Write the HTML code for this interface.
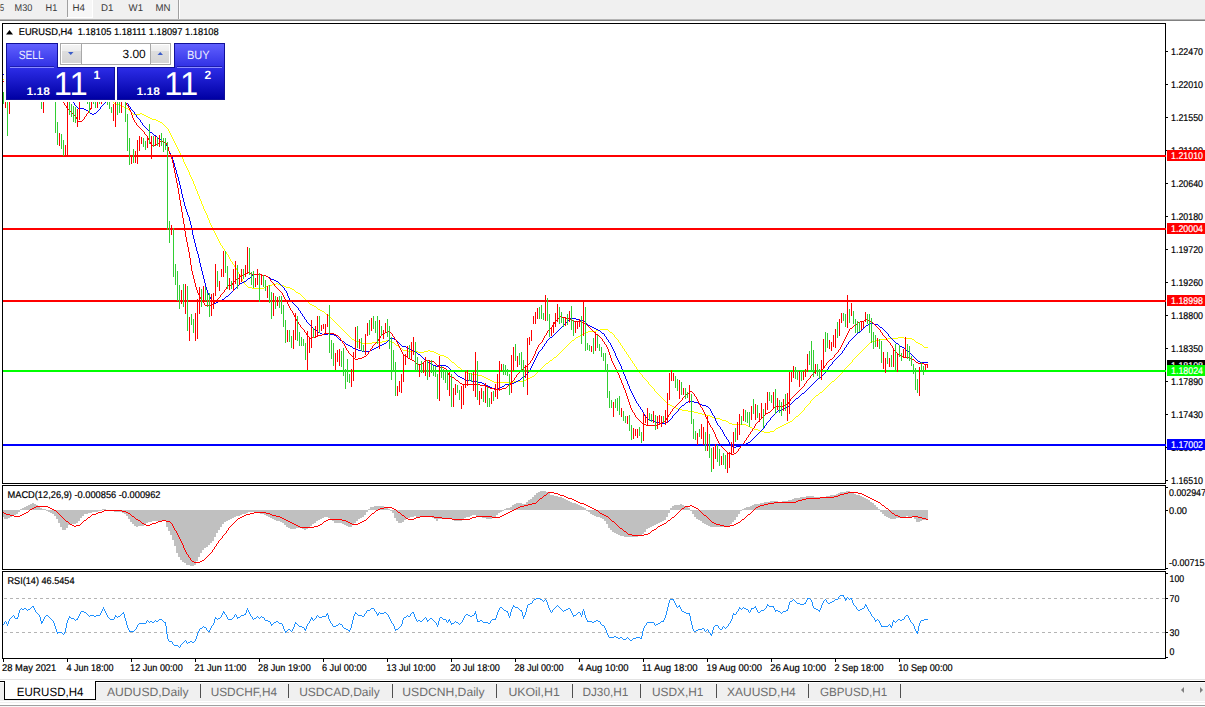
<!DOCTYPE html>
<html><head><meta charset="utf-8"><title>EURUSD,H4</title>
<style>
html,body{margin:0;padding:0;background:#fff;width:1205px;height:707px;overflow:hidden}
svg{display:block}
text{font-family:"Liberation Sans",sans-serif;text-rendering:geometricPrecision}
</style></head><body>
<svg width="1205" height="707" viewBox="0 0 1205 707" font-family="Liberation Sans, sans-serif">
<rect x="0" y="0" width="1205" height="707" fill="#fff"/>
<rect x="0" y="0" width="1205" height="19" fill="#f0f0f0"/>
<rect x="68" y="0" width="24" height="17" fill="#f7f7f7"/>
<rect x="67" y="0" width="1" height="17" fill="#a0a0a0"/>
<rect x="92" y="0" width="1" height="18" fill="#ffffff"/>
<rect x="67" y="17" width="26" height="1" fill="#ffffff"/>
<rect x="178" y="0" width="1" height="19" fill="#a0a0a0"/>
<rect x="179" y="0" width="1" height="19" fill="#ffffff"/>
<text x="0" y="11" font-size="9.8" fill="#3a3a3a" textLength="4.1" lengthAdjust="spacingAndGlyphs">5</text>
<text x="14.6" y="11" font-size="9.8" fill="#3a3a3a" textLength="17.8" lengthAdjust="spacingAndGlyphs">M30</text>
<text x="45.6" y="11" font-size="9.8" fill="#3a3a3a" textLength="11.7" lengthAdjust="spacingAndGlyphs">H1</text>
<text x="72.5" y="11" font-size="9.8" fill="#3a3a3a" textLength="12.5" lengthAdjust="spacingAndGlyphs">H4</text>
<text x="101" y="11" font-size="9.8" fill="#3a3a3a" textLength="12.4" lengthAdjust="spacingAndGlyphs">D1</text>
<text x="128.6" y="11" font-size="9.8" fill="#3a3a3a" textLength="14.4" lengthAdjust="spacingAndGlyphs">W1</text>
<text x="155.5" y="11" font-size="9.8" fill="#3a3a3a" textLength="15.0" lengthAdjust="spacingAndGlyphs">MN</text>
<rect x="0" y="19" width="1205" height="1" fill="#b4b4b4"/>
<rect x="0" y="20" width="1205" height="1" fill="#808080"/>
<rect x="2" y="23" width="1164" height="1" fill="#000"/>
<rect x="2" y="23" width="1" height="461" fill="#000"/>
<rect x="1165" y="23" width="1" height="461" fill="#000"/>
<rect x="2" y="483" width="1164" height="1" fill="#000"/>
<rect x="2" y="485" width="1164" height="1" fill="#000"/>
<rect x="2" y="485" width="1" height="85" fill="#000"/>
<rect x="1165" y="485" width="1" height="85" fill="#000"/>
<rect x="2" y="569" width="1164" height="1" fill="#000"/>
<rect x="2" y="571" width="1164" height="1" fill="#000"/>
<rect x="2" y="571" width="1" height="88" fill="#000"/>
<rect x="1165" y="571" width="1" height="88" fill="#000"/>
<rect x="2" y="658" width="1164" height="1" fill="#000"/>
<rect x="1165" y="51" width="3" height="1" fill="#000"/>
<text x="1171" y="55" font-size="9.8" fill="#000" textLength="32" lengthAdjust="spacingAndGlyphs" stroke="#000" stroke-width="0.2">1.22470</text>
<rect x="1165" y="84" width="3" height="1" fill="#000"/>
<text x="1171" y="88" font-size="9.8" fill="#000" textLength="32" lengthAdjust="spacingAndGlyphs" stroke="#000" stroke-width="0.2">1.22010</text>
<rect x="1165" y="117" width="3" height="1" fill="#000"/>
<text x="1171" y="121" font-size="9.8" fill="#000" textLength="32" lengthAdjust="spacingAndGlyphs" stroke="#000" stroke-width="0.2">1.21550</text>
<rect x="1165" y="150" width="3" height="1" fill="#000"/>
<text x="1171" y="154" font-size="9.8" fill="#000" textLength="32" lengthAdjust="spacingAndGlyphs" stroke="#000" stroke-width="0.2">1.21100</text>
<rect x="1165" y="183" width="3" height="1" fill="#000"/>
<text x="1171" y="187" font-size="9.8" fill="#000" textLength="32" lengthAdjust="spacingAndGlyphs" stroke="#000" stroke-width="0.2">1.20640</text>
<rect x="1165" y="216" width="3" height="1" fill="#000"/>
<text x="1171" y="220" font-size="9.8" fill="#000" textLength="32" lengthAdjust="spacingAndGlyphs" stroke="#000" stroke-width="0.2">1.20180</text>
<rect x="1165" y="249" width="3" height="1" fill="#000"/>
<text x="1171" y="253" font-size="9.8" fill="#000" textLength="32" lengthAdjust="spacingAndGlyphs" stroke="#000" stroke-width="0.2">1.19720</text>
<rect x="1165" y="282" width="3" height="1" fill="#000"/>
<text x="1171" y="286" font-size="9.8" fill="#000" textLength="32" lengthAdjust="spacingAndGlyphs" stroke="#000" stroke-width="0.2">1.19260</text>
<rect x="1165" y="315" width="3" height="1" fill="#000"/>
<text x="1171" y="319" font-size="9.8" fill="#000" textLength="32" lengthAdjust="spacingAndGlyphs" stroke="#000" stroke-width="0.2">1.18800</text>
<rect x="1165" y="348" width="3" height="1" fill="#000"/>
<text x="1171" y="352" font-size="9.8" fill="#000" textLength="32" lengthAdjust="spacingAndGlyphs" stroke="#000" stroke-width="0.2">1.18350</text>
<rect x="1165" y="381" width="3" height="1" fill="#000"/>
<text x="1171" y="385" font-size="9.8" fill="#000" textLength="32" lengthAdjust="spacingAndGlyphs" stroke="#000" stroke-width="0.2">1.17890</text>
<rect x="1165" y="414" width="3" height="1" fill="#000"/>
<text x="1171" y="418" font-size="9.8" fill="#000" textLength="32" lengthAdjust="spacingAndGlyphs" stroke="#000" stroke-width="0.2">1.17430</text>
<rect x="1165" y="447" width="3" height="1" fill="#000"/>
<text x="1171" y="451" font-size="9.8" fill="#000" textLength="32" lengthAdjust="spacingAndGlyphs" stroke="#000" stroke-width="0.2">1.16970</text>
<rect x="1165" y="480" width="3" height="1" fill="#000"/>
<text x="1171" y="484" font-size="9.8" fill="#000" textLength="32" lengthAdjust="spacingAndGlyphs" stroke="#000" stroke-width="0.2">1.16510</text>
<svg x="3" y="24" width="1162" height="459" viewBox="3 24 1162 459" overflow="hidden">
<path d="M113 102h1v1h-1ZM114 103h1v1h-1ZM115 103h1v1h-1ZM116 104h1v1h-1ZM117 104h1v1h-1ZM118 104h1v1h-1ZM119 104h1v1h-1ZM120 105h1v1h-1ZM121 105h1v1h-1ZM122 106h1v1h-1ZM123 106h1v1h-1ZM124 107h1v1h-1ZM125 107h1v1h-1ZM126 108h1v1h-1ZM127 108h1v1h-1ZM128 109h1v1h-1ZM129 110h1v1h-1ZM130 111h1v1h-1ZM131 112h1v1h-1ZM132 113h1v1h-1ZM133 114h1v1h-1ZM134 114h1v1h-1ZM135 114h1v1h-1ZM136 114h1v1h-1ZM137 114h1v1h-1ZM138 114h1v1h-1ZM139 114h1v1h-1ZM140 113h1v1h-1ZM141 113h1v1h-1ZM142 114h1v1h-1ZM143 114h1v1h-1ZM144 115h1v1h-1ZM145 115h1v1h-1ZM146 116h1v1h-1ZM147 116h1v1h-1ZM148 117h1v1h-1ZM149 117h1v1h-1ZM150 118h1v1h-1ZM151 118h1v1h-1ZM152 119h1v1h-1ZM153 119h1v1h-1ZM154 119h1v1h-1ZM155 119h1v1h-1ZM156 120h1v1h-1ZM157 120h1v1h-1ZM158 121h1v1h-1ZM159 121h1v1h-1ZM160 122h1v1h-1ZM161 122h1v1h-1ZM162 123h1v1h-1ZM163 124h1v1h-1ZM164 125h1v1h-1ZM165 126h1v1h-1ZM166 127h1v1h-1ZM167 128h1v1h-1ZM168 129h1v2h-1ZM169 131h1v2h-1ZM170 133h1v2h-1ZM171 135h1v2h-1ZM172 137h1v2h-1ZM173 139h1v2h-1ZM174 141h1v2h-1ZM175 143h1v2h-1ZM176 145h1v2h-1ZM177 147h1v2h-1ZM178 149h1v2h-1ZM179 151h1v2h-1ZM180 153h1v2h-1ZM181 155h1v2h-1ZM182 157h1v2h-1ZM183 159h1v3h-1ZM184 162h1v2h-1ZM185 164h1v2h-1ZM186 166h1v2h-1ZM187 168h1v2h-1ZM188 170h1v2h-1ZM189 172h1v3h-1ZM190 175h1v2h-1ZM191 177h1v2h-1ZM192 179h1v2h-1ZM193 181h1v3h-1ZM194 184h1v2h-1ZM195 186h1v3h-1ZM196 189h1v2h-1ZM197 191h1v3h-1ZM198 194h1v2h-1ZM199 196h1v3h-1ZM200 199h1v2h-1ZM201 201h1v3h-1ZM202 204h1v2h-1ZM203 206h1v3h-1ZM204 209h1v2h-1ZM205 211h1v2h-1ZM206 213h1v2h-1ZM207 215h1v3h-1ZM208 218h1v2h-1ZM209 220h1v3h-1ZM210 223h1v2h-1ZM211 225h1v2h-1ZM212 227h1v2h-1ZM213 229h1v2h-1ZM214 231h1v2h-1ZM215 233h1v2h-1ZM216 235h1v2h-1ZM217 237h1v2h-1ZM218 239h1v2h-1ZM219 241h1v2h-1ZM220 243h1v2h-1ZM221 245h1v1h-1ZM222 246h1v2h-1ZM223 248h1v1h-1ZM224 249h1v2h-1ZM225 251h1v1h-1ZM226 252h1v2h-1ZM227 254h1v1h-1ZM228 255h1v2h-1ZM229 257h1v2h-1ZM230 259h1v2h-1ZM231 261h1v1h-1ZM232 262h1v2h-1ZM233 264h1v1h-1ZM234 265h1v2h-1ZM235 267h1v1h-1ZM236 268h1v2h-1ZM237 270h1v2h-1ZM238 272h1v2h-1ZM239 274h1v1h-1ZM240 275h1v2h-1ZM241 277h1v2h-1ZM242 279h1v2h-1ZM243 281h1v1h-1ZM244 282h1v2h-1ZM245 284h1v1h-1ZM246 285h1v1h-1ZM247 286h1v1h-1ZM248 287h1v1h-1ZM249 287h1v1h-1ZM250 287h1v1h-1ZM251 287h1v1h-1ZM252 288h1v1h-1ZM253 288h1v1h-1ZM254 288h1v1h-1ZM255 288h1v1h-1ZM256 288h1v1h-1ZM257 288h1v1h-1ZM258 288h1v1h-1ZM259 288h1v1h-1ZM260 288h1v1h-1ZM261 288h1v1h-1ZM262 288h1v1h-1ZM263 288h1v1h-1ZM264 287h1v1h-1ZM265 287h1v1h-1ZM266 286h1v1h-1ZM267 286h1v1h-1ZM268 285h1v1h-1ZM269 285h1v1h-1ZM270 285h1v1h-1ZM271 285h1v1h-1ZM272 284h1v1h-1ZM273 284h1v1h-1ZM274 284h1v1h-1ZM275 284h1v1h-1ZM276 283h1v1h-1ZM277 283h1v1h-1ZM278 284h1v1h-1ZM279 284h1v1h-1ZM280 285h1v1h-1ZM281 285h1v1h-1ZM282 285h1v1h-1ZM283 285h1v1h-1ZM284 286h1v1h-1ZM285 286h1v1h-1ZM286 287h1v1h-1ZM287 287h1v1h-1ZM288 287h1v1h-1ZM289 287h1v1h-1ZM290 288h1v1h-1ZM291 288h1v1h-1ZM292 289h1v1h-1ZM293 289h1v1h-1ZM294 290h1v1h-1ZM295 291h1v1h-1ZM296 292h1v1h-1ZM297 292h1v1h-1ZM298 293h1v1h-1ZM299 293h1v1h-1ZM300 294h1v1h-1ZM301 295h1v1h-1ZM302 296h1v1h-1ZM303 297h1v1h-1ZM304 298h1v1h-1ZM305 299h1v1h-1ZM306 300h1v1h-1ZM307 301h1v1h-1ZM308 302h1v1h-1ZM309 303h1v1h-1ZM310 304h1v1h-1ZM311 304h1v1h-1ZM312 305h1v1h-1ZM313 305h1v1h-1ZM314 306h1v1h-1ZM315 306h1v1h-1ZM316 307h1v1h-1ZM317 308h1v1h-1ZM318 309h1v1h-1ZM319 309h1v1h-1ZM320 310h1v1h-1ZM321 310h1v1h-1ZM322 311h1v1h-1ZM323 311h1v1h-1ZM324 312h1v1h-1ZM325 313h1v1h-1ZM326 314h1v1h-1ZM327 314h1v1h-1ZM328 315h1v1h-1ZM329 316h1v1h-1ZM330 317h1v1h-1ZM331 318h1v1h-1ZM332 319h1v1h-1ZM333 320h1v1h-1ZM334 321h1v1h-1ZM335 322h1v1h-1ZM336 323h1v1h-1ZM337 324h1v1h-1ZM338 325h1v1h-1ZM339 326h1v1h-1ZM340 327h1v1h-1ZM341 328h1v1h-1ZM342 329h1v1h-1ZM343 330h1v1h-1ZM344 331h1v1h-1ZM345 332h1v1h-1ZM346 333h1v1h-1ZM347 334h1v1h-1ZM348 335h1v1h-1ZM349 336h1v1h-1ZM350 337h1v1h-1ZM351 338h1v1h-1ZM352 339h1v1h-1ZM353 339h1v1h-1ZM354 340h1v1h-1ZM355 340h1v1h-1ZM356 341h1v1h-1ZM357 341h1v1h-1ZM358 341h1v1h-1ZM359 341h1v1h-1ZM360 342h1v1h-1ZM361 342h1v1h-1ZM362 343h1v1h-1ZM363 343h1v1h-1ZM364 343h1v1h-1ZM365 343h1v1h-1ZM366 343h1v1h-1ZM367 343h1v1h-1ZM368 343h1v1h-1ZM369 343h1v1h-1ZM370 343h1v1h-1ZM371 343h1v1h-1ZM372 342h1v1h-1ZM373 342h1v1h-1ZM374 342h1v1h-1ZM375 342h1v1h-1ZM376 342h1v1h-1ZM377 342h1v1h-1ZM378 342h1v1h-1ZM379 342h1v1h-1ZM380 342h1v1h-1ZM381 342h1v1h-1ZM382 341h1v1h-1ZM383 341h1v1h-1ZM384 341h1v1h-1ZM385 341h1v1h-1ZM386 340h1v1h-1ZM387 340h1v1h-1ZM388 340h1v1h-1ZM389 340h1v1h-1ZM390 341h1v1h-1ZM391 341h1v1h-1ZM392 342h1v1h-1ZM393 342h1v1h-1ZM394 343h1v1h-1ZM395 344h1v1h-1ZM396 345h1v1h-1ZM397 345h1v1h-1ZM398 346h1v1h-1ZM399 347h1v1h-1ZM400 348h1v1h-1ZM401 348h1v1h-1ZM402 349h1v1h-1ZM403 350h1v1h-1ZM404 350h1v1h-1ZM405 350h1v1h-1ZM406 350h1v1h-1ZM407 350h1v1h-1ZM408 351h1v1h-1ZM409 351h1v1h-1ZM410 351h1v1h-1ZM411 351h1v1h-1ZM412 351h1v1h-1ZM413 351h1v1h-1ZM414 351h1v1h-1ZM415 351h1v1h-1ZM416 351h1v1h-1ZM417 351h1v1h-1ZM418 352h1v1h-1ZM419 352h1v1h-1ZM420 352h1v1h-1ZM421 352h1v1h-1ZM422 352h1v1h-1ZM423 352h1v1h-1ZM424 351h1v1h-1ZM425 351h1v1h-1ZM426 351h1v1h-1ZM427 351h1v1h-1ZM428 350h1v1h-1ZM429 350h1v1h-1ZM430 351h1v1h-1ZM431 351h1v1h-1ZM432 351h1v1h-1ZM433 351h1v1h-1ZM434 352h1v1h-1ZM435 352h1v1h-1ZM436 353h1v1h-1ZM437 353h1v1h-1ZM438 354h1v1h-1ZM439 354h1v1h-1ZM440 355h1v1h-1ZM441 355h1v1h-1ZM442 355h1v1h-1ZM443 355h1v1h-1ZM444 356h1v1h-1ZM445 356h1v1h-1ZM446 357h1v1h-1ZM447 357h1v1h-1ZM448 358h1v1h-1ZM449 359h1v1h-1ZM450 360h1v1h-1ZM451 361h1v1h-1ZM452 362h1v1h-1ZM453 362h1v1h-1ZM454 363h1v1h-1ZM455 364h1v1h-1ZM456 365h1v1h-1ZM457 366h1v1h-1ZM458 367h1v1h-1ZM459 367h1v1h-1ZM460 368h1v1h-1ZM461 369h1v1h-1ZM462 370h1v1h-1ZM463 370h1v1h-1ZM464 371h1v1h-1ZM465 371h1v1h-1ZM466 372h1v1h-1ZM467 372h1v1h-1ZM468 373h1v1h-1ZM469 373h1v1h-1ZM470 373h1v1h-1ZM471 373h1v1h-1ZM472 374h1v1h-1ZM473 374h1v1h-1ZM474 374h1v1h-1ZM475 374h1v1h-1ZM476 374h1v1h-1ZM477 374h1v1h-1ZM478 375h1v1h-1ZM479 375h1v1h-1ZM480 375h1v1h-1ZM481 375h1v1h-1ZM482 376h1v1h-1ZM483 376h1v1h-1ZM484 377h1v1h-1ZM485 377h1v1h-1ZM486 378h1v1h-1ZM487 378h1v1h-1ZM488 379h1v1h-1ZM489 379h1v1h-1ZM490 380h1v1h-1ZM491 380h1v1h-1ZM492 381h1v1h-1ZM493 381h1v1h-1ZM494 382h1v1h-1ZM495 382h1v1h-1ZM496 382h1v1h-1ZM497 382h1v1h-1ZM498 382h1v1h-1ZM499 382h1v1h-1ZM500 382h1v1h-1ZM501 382h1v1h-1ZM502 382h1v1h-1ZM503 382h1v1h-1ZM504 382h1v1h-1ZM505 382h1v1h-1ZM506 382h1v1h-1ZM507 382h1v1h-1ZM508 382h1v1h-1ZM509 382h1v1h-1ZM510 382h1v1h-1ZM511 382h1v1h-1ZM512 382h1v1h-1ZM513 382h1v1h-1ZM514 381h1v1h-1ZM515 381h1v1h-1ZM516 381h1v1h-1ZM517 381h1v1h-1ZM518 381h1v1h-1ZM519 381h1v1h-1ZM520 381h1v1h-1ZM521 381h1v1h-1ZM522 381h1v1h-1ZM523 381h1v1h-1ZM524 380h1v1h-1ZM525 380h1v1h-1ZM526 379h1v1h-1ZM527 379h1v1h-1ZM528 378h1v1h-1ZM529 378h1v1h-1ZM530 377h1v1h-1ZM531 377h1v1h-1ZM532 376h1v1h-1ZM533 376h1v1h-1ZM534 375h1v1h-1ZM535 374h1v1h-1ZM536 373h1v1h-1ZM537 372h1v1h-1ZM538 371h1v1h-1ZM539 370h1v1h-1ZM540 369h1v1h-1ZM541 368h1v1h-1ZM542 367h1v1h-1ZM543 366h1v1h-1ZM544 365h1v1h-1ZM545 364h1v1h-1ZM546 363h1v1h-1ZM547 363h1v1h-1ZM548 362h1v1h-1ZM549 361h1v1h-1ZM550 360h1v1h-1ZM551 360h1v1h-1ZM552 359h1v1h-1ZM553 358h1v1h-1ZM554 357h1v1h-1ZM555 357h1v1h-1ZM556 356h1v1h-1ZM557 355h1v1h-1ZM558 354h1v1h-1ZM559 353h1v1h-1ZM560 352h1v1h-1ZM561 351h1v1h-1ZM562 350h1v1h-1ZM563 349h1v1h-1ZM564 348h1v1h-1ZM565 347h1v1h-1ZM566 346h1v1h-1ZM567 345h1v1h-1ZM568 344h1v1h-1ZM569 343h1v1h-1ZM570 342h1v1h-1ZM571 341h1v1h-1ZM572 340h1v1h-1ZM573 340h1v1h-1ZM574 339h1v1h-1ZM575 338h1v1h-1ZM576 337h1v1h-1ZM577 337h1v1h-1ZM578 336h1v1h-1ZM579 336h1v1h-1ZM580 335h1v1h-1ZM581 335h1v1h-1ZM582 334h1v1h-1ZM583 334h1v1h-1ZM584 333h1v1h-1ZM585 333h1v1h-1ZM586 332h1v1h-1ZM587 332h1v1h-1ZM588 331h1v1h-1ZM589 331h1v1h-1ZM590 331h1v1h-1ZM591 331h1v1h-1ZM592 331h1v1h-1ZM593 331h1v1h-1ZM594 331h1v1h-1ZM595 331h1v1h-1ZM596 330h1v1h-1ZM597 330h1v1h-1ZM598 330h1v1h-1ZM599 330h1v1h-1ZM600 329h1v1h-1ZM601 329h1v1h-1ZM602 329h1v1h-1ZM603 329h1v1h-1ZM604 329h1v1h-1ZM605 329h1v1h-1ZM606 329h1v1h-1ZM607 329h1v1h-1ZM608 330h1v1h-1ZM609 331h1v1h-1ZM610 332h1v1h-1ZM611 332h1v1h-1ZM612 333h1v1h-1ZM613 334h1v1h-1ZM614 335h1v2h-1ZM615 337h1v1h-1ZM616 338h1v1h-1ZM617 339h1v1h-1ZM618 340h1v2h-1ZM619 342h1v1h-1ZM620 343h1v2h-1ZM621 345h1v1h-1ZM622 346h1v2h-1ZM623 348h1v1h-1ZM624 349h1v2h-1ZM625 351h1v1h-1ZM626 352h1v2h-1ZM627 354h1v1h-1ZM628 355h1v2h-1ZM629 357h1v1h-1ZM630 358h1v2h-1ZM631 360h1v1h-1ZM632 361h1v2h-1ZM633 363h1v1h-1ZM634 364h1v2h-1ZM635 366h1v1h-1ZM636 367h1v2h-1ZM637 369h1v1h-1ZM638 370h1v2h-1ZM639 372h1v1h-1ZM640 373h1v1h-1ZM641 374h1v1h-1ZM642 375h1v2h-1ZM643 377h1v1h-1ZM644 378h1v1h-1ZM645 379h1v1h-1ZM646 380h1v1h-1ZM647 381h1v1h-1ZM648 382h1v2h-1ZM649 384h1v1h-1ZM650 385h1v1h-1ZM651 386h1v1h-1ZM652 387h1v1h-1ZM653 388h1v1h-1ZM654 389h1v2h-1ZM655 391h1v1h-1ZM656 392h1v1h-1ZM657 393h1v1h-1ZM658 394h1v1h-1ZM659 395h1v1h-1ZM660 396h1v1h-1ZM661 397h1v1h-1ZM662 398h1v1h-1ZM663 399h1v1h-1ZM664 400h1v1h-1ZM665 401h1v1h-1ZM666 402h1v1h-1ZM667 403h1v1h-1ZM668 404h1v1h-1ZM669 404h1v1h-1ZM670 405h1v1h-1ZM671 405h1v1h-1ZM672 406h1v1h-1ZM673 406h1v1h-1ZM674 407h1v1h-1ZM675 407h1v1h-1ZM676 408h1v1h-1ZM677 408h1v1h-1ZM678 409h1v1h-1ZM679 409h1v1h-1ZM680 409h1v1h-1ZM681 409h1v1h-1ZM682 410h1v1h-1ZM683 410h1v1h-1ZM684 410h1v1h-1ZM685 410h1v1h-1ZM686 410h1v1h-1ZM687 410h1v1h-1ZM688 411h1v1h-1ZM689 411h1v1h-1ZM690 411h1v1h-1ZM691 411h1v1h-1ZM692 411h1v1h-1ZM693 411h1v1h-1ZM694 412h1v1h-1ZM695 412h1v1h-1ZM696 412h1v1h-1ZM697 412h1v1h-1ZM698 413h1v1h-1ZM699 413h1v1h-1ZM700 413h1v1h-1ZM701 413h1v1h-1ZM702 414h1v1h-1ZM703 414h1v1h-1ZM704 414h1v1h-1ZM705 414h1v1h-1ZM706 415h1v1h-1ZM707 415h1v1h-1ZM708 415h1v1h-1ZM709 415h1v1h-1ZM710 416h1v1h-1ZM711 416h1v1h-1ZM712 417h1v1h-1ZM713 417h1v1h-1ZM714 418h1v1h-1ZM715 418h1v1h-1ZM716 418h1v1h-1ZM717 418h1v1h-1ZM718 418h1v1h-1ZM719 418h1v1h-1ZM720 419h1v1h-1ZM721 419h1v1h-1ZM722 420h1v1h-1ZM723 420h1v1h-1ZM724 420h1v1h-1ZM725 420h1v1h-1ZM726 421h1v1h-1ZM727 421h1v1h-1ZM728 422h1v1h-1ZM729 423h1v1h-1ZM730 423h1v1h-1ZM731 423h1v1h-1ZM732 424h1v1h-1ZM733 424h1v1h-1ZM734 424h1v1h-1ZM735 424h1v1h-1ZM736 424h1v1h-1ZM737 424h1v1h-1ZM738 424h1v1h-1ZM739 424h1v1h-1ZM740 424h1v1h-1ZM741 424h1v1h-1ZM742 424h1v1h-1ZM743 424h1v1h-1ZM744 424h1v1h-1ZM745 424h1v1h-1ZM746 425h1v1h-1ZM747 425h1v1h-1ZM748 426h1v1h-1ZM749 426h1v1h-1ZM750 427h1v1h-1ZM751 427h1v1h-1ZM752 428h1v1h-1ZM753 428h1v1h-1ZM754 429h1v1h-1ZM755 429h1v1h-1ZM756 429h1v1h-1ZM757 429h1v1h-1ZM758 430h1v1h-1ZM759 430h1v1h-1ZM760 431h1v1h-1ZM761 431h1v1h-1ZM762 431h1v1h-1ZM763 431h1v1h-1ZM764 432h1v1h-1ZM765 432h1v1h-1ZM766 432h1v1h-1ZM767 432h1v1h-1ZM768 432h1v1h-1ZM769 432h1v1h-1ZM770 431h1v1h-1ZM771 431h1v1h-1ZM772 431h1v1h-1ZM773 431h1v1h-1ZM774 430h1v1h-1ZM775 429h1v1h-1ZM776 428h1v1h-1ZM777 428h1v1h-1ZM778 427h1v1h-1ZM779 427h1v1h-1ZM780 426h1v1h-1ZM781 426h1v1h-1ZM782 425h1v1h-1ZM783 425h1v1h-1ZM784 424h1v1h-1ZM785 424h1v1h-1ZM786 423h1v1h-1ZM787 423h1v1h-1ZM788 422h1v1h-1ZM789 422h1v1h-1ZM790 421h1v1h-1ZM791 421h1v1h-1ZM792 420h1v1h-1ZM793 419h1v1h-1ZM794 418h1v1h-1ZM795 417h1v1h-1ZM796 416h1v1h-1ZM797 416h1v1h-1ZM798 415h1v1h-1ZM799 414h1v1h-1ZM800 413h1v1h-1ZM801 412h1v1h-1ZM802 411h1v1h-1ZM803 410h1v1h-1ZM804 408h1v2h-1ZM805 407h1v1h-1ZM806 406h1v1h-1ZM807 405h1v1h-1ZM808 404h1v1h-1ZM809 403h1v1h-1ZM810 401h1v2h-1ZM811 400h1v1h-1ZM812 399h1v1h-1ZM813 398h1v1h-1ZM814 397h1v1h-1ZM815 396h1v1h-1ZM816 395h1v1h-1ZM817 395h1v1h-1ZM818 394h1v1h-1ZM819 393h1v1h-1ZM820 392h1v1h-1ZM821 392h1v1h-1ZM822 391h1v1h-1ZM823 390h1v1h-1ZM824 389h1v1h-1ZM825 388h1v1h-1ZM826 387h1v1h-1ZM827 386h1v1h-1ZM828 385h1v1h-1ZM829 384h1v1h-1ZM830 383h1v1h-1ZM831 382h1v1h-1ZM832 381h1v1h-1ZM833 381h1v1h-1ZM834 380h1v1h-1ZM835 379h1v1h-1ZM836 378h1v1h-1ZM837 377h1v1h-1ZM838 376h1v1h-1ZM839 375h1v1h-1ZM840 374h1v1h-1ZM841 373h1v1h-1ZM842 371h1v2h-1ZM843 370h1v1h-1ZM844 369h1v1h-1ZM845 368h1v1h-1ZM846 367h1v1h-1ZM847 366h1v1h-1ZM848 365h1v1h-1ZM849 364h1v1h-1ZM850 363h1v1h-1ZM851 362h1v1h-1ZM852 360h1v2h-1ZM853 359h1v1h-1ZM854 358h1v1h-1ZM855 357h1v1h-1ZM856 356h1v1h-1ZM857 355h1v1h-1ZM858 354h1v1h-1ZM859 353h1v1h-1ZM860 352h1v1h-1ZM861 351h1v1h-1ZM862 350h1v1h-1ZM863 349h1v1h-1ZM864 348h1v1h-1ZM865 347h1v1h-1ZM866 346h1v1h-1ZM867 345h1v1h-1ZM868 344h1v1h-1ZM869 343h1v1h-1ZM870 342h1v1h-1ZM871 342h1v1h-1ZM872 341h1v1h-1ZM873 341h1v1h-1ZM874 341h1v1h-1ZM875 341h1v1h-1ZM876 340h1v1h-1ZM877 340h1v1h-1ZM878 340h1v1h-1ZM879 340h1v1h-1ZM880 339h1v1h-1ZM881 339h1v1h-1ZM882 339h1v1h-1ZM883 339h1v1h-1ZM884 339h1v1h-1ZM885 339h1v1h-1ZM886 339h1v1h-1ZM887 339h1v1h-1ZM888 338h1v1h-1ZM889 338h1v1h-1ZM890 338h1v1h-1ZM891 338h1v1h-1ZM892 338h1v1h-1ZM893 338h1v1h-1ZM894 338h1v1h-1ZM895 338h1v1h-1ZM896 338h1v1h-1ZM897 338h1v1h-1ZM898 337h1v1h-1ZM899 337h1v1h-1ZM900 337h1v1h-1ZM901 337h1v1h-1ZM902 337h1v1h-1ZM903 337h1v1h-1ZM904 338h1v1h-1ZM905 338h1v1h-1ZM906 338h1v1h-1ZM907 338h1v1h-1ZM908 338h1v1h-1ZM909 338h1v1h-1ZM910 338h1v1h-1ZM911 338h1v1h-1ZM912 339h1v1h-1ZM913 339h1v1h-1ZM914 340h1v1h-1ZM915 341h1v1h-1ZM916 342h1v1h-1ZM917 342h1v1h-1ZM918 343h1v1h-1ZM919 343h1v1h-1ZM920 344h1v1h-1ZM921 344h1v1h-1ZM922 345h1v1h-1ZM923 346h1v1h-1ZM924 347h1v1h-1ZM925 347h1v1h-1ZM926 347h1v1h-1ZM927 347h1v1h-1Z" fill="#ffff00" shape-rendering="crispEdges"/>
<path d="M73 102h1v1h-1ZM74 103h1v2h-1ZM75 105h1v1h-1ZM76 106h1v1h-1ZM77 107h1v1h-1ZM78 108h1v1h-1ZM79 108h1v1h-1ZM80 108h1v1h-1ZM81 108h1v1h-1ZM82 108h1v1h-1ZM83 108h1v1h-1ZM84 109h1v1h-1ZM85 109h1v1h-1ZM86 110h1v1h-1ZM87 110h1v1h-1ZM88 111h1v1h-1ZM89 112h1v1h-1ZM90 113h1v1h-1ZM91 113h1v1h-1ZM92 114h1v1h-1ZM93 114h1v1h-1ZM94 113h1v1h-1ZM95 113h1v1h-1ZM96 112h1v1h-1ZM97 111h1v1h-1ZM98 110h1v1h-1ZM99 109h1v1h-1ZM100 107h1v2h-1ZM101 106h1v1h-1ZM102 105h1v1h-1ZM103 104h1v1h-1ZM104 103h1v1h-1ZM105 102h1v1h-1Z" fill="#0000ff" shape-rendering="crispEdges"/>
<path d="M127 103h1v1h-1ZM128 104h1v2h-1ZM129 106h1v1h-1ZM130 107h1v2h-1ZM131 109h1v1h-1ZM132 110h1v1h-1ZM133 111h1v1h-1ZM134 112h1v2h-1ZM135 114h1v1h-1ZM136 115h1v2h-1ZM137 117h1v1h-1ZM138 118h1v1h-1ZM139 119h1v1h-1ZM140 120h1v2h-1ZM141 122h1v1h-1ZM142 123h1v2h-1ZM143 125h1v1h-1ZM144 126h1v1h-1ZM145 127h1v1h-1ZM146 128h1v1h-1ZM147 129h1v1h-1ZM148 130h1v1h-1ZM149 131h1v1h-1ZM150 132h1v1h-1ZM151 132h1v1h-1ZM152 133h1v1h-1ZM153 134h1v1h-1ZM154 135h1v1h-1ZM155 135h1v1h-1ZM156 136h1v1h-1ZM157 137h1v1h-1ZM158 138h1v1h-1ZM159 138h1v1h-1ZM160 139h1v1h-1ZM161 140h1v1h-1ZM162 141h1v1h-1ZM163 141h1v1h-1ZM164 142h1v1h-1ZM165 143h1v1h-1ZM166 144h1v2h-1ZM167 146h1v2h-1ZM168 148h1v3h-1ZM169 151h1v2h-1ZM170 153h1v2h-1ZM171 155h1v2h-1ZM172 157h1v3h-1ZM173 160h1v3h-1ZM174 163h1v4h-1ZM175 167h1v3h-1ZM176 170h1v4h-1ZM177 174h1v3h-1ZM178 177h1v4h-1ZM179 181h1v4h-1ZM180 185h1v4h-1ZM181 189h1v5h-1ZM182 194h1v4h-1ZM183 198h1v4h-1ZM184 202h1v4h-1ZM185 206h1v3h-1ZM186 209h1v3h-1ZM187 212h1v3h-1ZM188 215h1v2h-1ZM189 217h1v4h-1ZM190 221h1v4h-1ZM191 225h1v5h-1ZM192 230h1v5h-1ZM193 235h1v4h-1ZM194 239h1v4h-1ZM195 243h1v4h-1ZM196 247h1v4h-1ZM197 251h1v3h-1ZM198 254h1v4h-1ZM199 258h1v5h-1ZM200 263h1v4h-1ZM201 267h1v4h-1ZM202 271h1v4h-1ZM203 275h1v4h-1ZM204 279h1v4h-1ZM205 283h1v4h-1ZM206 287h1v3h-1ZM207 290h1v3h-1ZM208 293h1v2h-1ZM209 295h1v2h-1ZM210 297h1v2h-1ZM211 299h1v1h-1ZM212 300h1v2h-1ZM213 302h1v1h-1ZM214 303h1v1h-1ZM215 303h1v1h-1ZM216 302h1v1h-1ZM217 302h1v1h-1ZM218 301h1v1h-1ZM219 301h1v1h-1ZM220 300h1v1h-1ZM221 300h1v1h-1ZM222 299h1v1h-1ZM223 299h1v1h-1ZM224 298h1v1h-1ZM225 297h1v1h-1ZM226 296h1v1h-1ZM227 296h1v1h-1ZM228 295h1v1h-1ZM229 294h1v1h-1ZM230 293h1v1h-1ZM231 292h1v1h-1ZM232 291h1v1h-1ZM233 290h1v1h-1ZM234 289h1v1h-1ZM235 288h1v1h-1ZM236 287h1v1h-1ZM237 286h1v1h-1ZM238 285h1v1h-1ZM239 284h1v1h-1ZM240 283h1v1h-1ZM241 283h1v1h-1ZM242 282h1v1h-1ZM243 282h1v1h-1ZM244 281h1v1h-1ZM245 281h1v1h-1ZM246 280h1v1h-1ZM247 279h1v1h-1ZM248 278h1v1h-1ZM249 278h1v1h-1ZM250 277h1v1h-1ZM251 276h1v1h-1ZM252 275h1v1h-1ZM253 275h1v1h-1ZM254 274h1v1h-1ZM255 274h1v1h-1ZM256 274h1v1h-1ZM257 274h1v1h-1ZM258 274h1v1h-1ZM259 274h1v1h-1ZM260 274h1v1h-1ZM261 274h1v1h-1ZM262 275h1v1h-1ZM263 275h1v1h-1ZM264 275h1v1h-1ZM265 275h1v1h-1ZM266 276h1v1h-1ZM267 276h1v1h-1ZM268 277h1v1h-1ZM269 277h1v1h-1ZM270 278h1v1h-1ZM271 279h1v1h-1ZM272 279h1v1h-1ZM273 279h1v1h-1ZM274 280h1v1h-1ZM275 280h1v1h-1ZM276 281h1v1h-1ZM277 281h1v1h-1ZM278 282h1v1h-1ZM279 283h1v1h-1ZM280 284h1v1h-1ZM281 285h1v1h-1ZM282 286h1v1h-1ZM283 287h1v1h-1ZM284 288h1v2h-1ZM285 290h1v1h-1ZM286 291h1v2h-1ZM287 293h1v3h-1ZM288 296h1v2h-1ZM289 298h1v2h-1ZM290 300h1v1h-1ZM291 301h1v1h-1ZM292 302h1v1h-1ZM293 303h1v1h-1ZM294 304h1v1h-1ZM295 305h1v1h-1ZM296 306h1v1h-1ZM297 307h1v1h-1ZM298 308h1v2h-1ZM299 310h1v1h-1ZM300 311h1v2h-1ZM301 313h1v1h-1ZM302 314h1v2h-1ZM303 316h1v1h-1ZM304 317h1v2h-1ZM305 319h1v1h-1ZM306 320h1v2h-1ZM307 322h1v1h-1ZM308 323h1v1h-1ZM309 324h1v1h-1ZM310 325h1v1h-1ZM311 326h1v1h-1ZM312 327h1v1h-1ZM313 328h1v1h-1ZM314 329h1v1h-1ZM315 329h1v1h-1ZM316 330h1v1h-1ZM317 331h1v1h-1ZM318 332h1v1h-1ZM319 332h1v1h-1ZM320 333h1v1h-1ZM321 333h1v1h-1ZM322 334h1v1h-1ZM323 334h1v1h-1ZM324 334h1v1h-1ZM325 334h1v1h-1ZM326 334h1v1h-1ZM327 334h1v1h-1ZM328 333h1v1h-1ZM329 333h1v1h-1ZM330 334h1v1h-1ZM331 334h1v1h-1ZM332 334h1v1h-1ZM333 334h1v1h-1ZM334 335h1v1h-1ZM335 335h1v1h-1ZM336 336h1v1h-1ZM337 337h1v1h-1ZM338 338h1v1h-1ZM339 339h1v1h-1ZM340 340h1v1h-1ZM341 340h1v1h-1ZM342 341h1v1h-1ZM343 341h1v1h-1ZM344 342h1v1h-1ZM345 343h1v1h-1ZM346 344h1v1h-1ZM347 344h1v1h-1ZM348 345h1v1h-1ZM349 345h1v1h-1ZM350 346h1v1h-1ZM351 346h1v1h-1ZM352 347h1v1h-1ZM353 348h1v1h-1ZM354 348h1v1h-1ZM355 348h1v1h-1ZM356 349h1v1h-1ZM357 349h1v1h-1ZM358 350h1v1h-1ZM359 350h1v1h-1ZM360 350h1v1h-1ZM361 350h1v1h-1ZM362 351h1v1h-1ZM363 351h1v1h-1ZM364 351h1v1h-1ZM365 351h1v1h-1ZM366 351h1v1h-1ZM367 351h1v1h-1ZM368 351h1v1h-1ZM369 351h1v1h-1ZM370 350h1v1h-1ZM371 350h1v1h-1ZM372 349h1v1h-1ZM373 349h1v1h-1ZM374 348h1v1h-1ZM375 348h1v1h-1ZM376 347h1v1h-1ZM377 347h1v1h-1ZM378 346h1v1h-1ZM379 346h1v1h-1ZM380 345h1v1h-1ZM381 345h1v1h-1ZM382 344h1v1h-1ZM383 344h1v1h-1ZM384 343h1v1h-1ZM385 343h1v1h-1ZM386 342h1v1h-1ZM387 341h1v1h-1ZM388 340h1v1h-1ZM389 339h1v1h-1ZM390 338h1v1h-1ZM391 338h1v1h-1ZM392 338h1v1h-1ZM393 338h1v1h-1ZM394 339h1v1h-1ZM395 339h1v1h-1ZM396 340h1v1h-1ZM397 341h1v1h-1ZM398 342h1v1h-1ZM399 343h1v1h-1ZM400 344h1v1h-1ZM401 345h1v1h-1ZM402 346h1v1h-1ZM403 346h1v1h-1ZM404 346h1v1h-1ZM405 346h1v1h-1ZM406 347h1v1h-1ZM407 347h1v1h-1ZM408 348h1v1h-1ZM409 348h1v1h-1ZM410 349h1v1h-1ZM411 349h1v1h-1ZM412 350h1v1h-1ZM413 350h1v1h-1ZM414 351h1v1h-1ZM415 351h1v1h-1ZM416 352h1v1h-1ZM417 353h1v1h-1ZM418 354h1v1h-1ZM419 354h1v1h-1ZM420 355h1v1h-1ZM421 356h1v1h-1ZM422 357h1v1h-1ZM423 358h1v1h-1ZM424 359h1v1h-1ZM425 359h1v1h-1ZM426 360h1v1h-1ZM427 361h1v1h-1ZM428 362h1v1h-1ZM429 362h1v1h-1ZM430 363h1v1h-1ZM431 363h1v1h-1ZM432 364h1v1h-1ZM433 365h1v1h-1ZM434 365h1v1h-1ZM435 365h1v1h-1ZM436 366h1v1h-1ZM437 366h1v1h-1ZM438 365h1v1h-1ZM439 365h1v1h-1ZM440 365h1v1h-1ZM441 365h1v1h-1ZM442 365h1v1h-1ZM443 365h1v1h-1ZM444 365h1v1h-1ZM445 365h1v1h-1ZM446 366h1v1h-1ZM447 366h1v1h-1ZM448 367h1v1h-1ZM449 368h1v1h-1ZM450 369h1v1h-1ZM451 370h1v1h-1ZM452 371h1v1h-1ZM453 371h1v1h-1ZM454 372h1v1h-1ZM455 373h1v1h-1ZM456 374h1v1h-1ZM457 375h1v1h-1ZM458 376h1v1h-1ZM459 376h1v1h-1ZM460 377h1v1h-1ZM461 377h1v1h-1ZM462 378h1v1h-1ZM463 378h1v1h-1ZM464 379h1v1h-1ZM465 379h1v1h-1ZM466 380h1v1h-1ZM467 380h1v1h-1ZM468 380h1v1h-1ZM469 380h1v1h-1ZM470 380h1v1h-1ZM471 380h1v1h-1ZM472 381h1v1h-1ZM473 381h1v1h-1ZM474 381h1v1h-1ZM475 381h1v1h-1ZM476 381h1v1h-1ZM477 381h1v1h-1ZM478 382h1v1h-1ZM479 382h1v1h-1ZM480 382h1v1h-1ZM481 382h1v1h-1ZM482 383h1v1h-1ZM483 383h1v1h-1ZM484 384h1v1h-1ZM485 384h1v1h-1ZM486 385h1v1h-1ZM487 385h1v1h-1ZM488 386h1v1h-1ZM489 386h1v1h-1ZM490 387h1v1h-1ZM491 387h1v1h-1ZM492 388h1v1h-1ZM493 388h1v1h-1ZM494 388h1v1h-1ZM495 388h1v1h-1ZM496 389h1v1h-1ZM497 389h1v1h-1ZM498 388h1v1h-1ZM499 388h1v1h-1ZM500 387h1v1h-1ZM501 387h1v1h-1ZM502 386h1v1h-1ZM503 386h1v1h-1ZM504 385h1v1h-1ZM505 384h1v1h-1ZM506 384h1v1h-1ZM507 384h1v1h-1ZM508 384h1v1h-1ZM509 384h1v1h-1ZM510 384h1v1h-1ZM511 384h1v1h-1ZM512 383h1v1h-1ZM513 383h1v1h-1ZM514 382h1v1h-1ZM515 382h1v1h-1ZM516 381h1v1h-1ZM517 381h1v1h-1ZM518 380h1v1h-1ZM519 380h1v1h-1ZM520 379h1v1h-1ZM521 378h1v1h-1ZM522 377h1v1h-1ZM523 377h1v1h-1ZM524 376h1v1h-1ZM525 375h1v1h-1ZM526 374h1v1h-1ZM527 373h1v1h-1ZM528 371h1v2h-1ZM529 370h1v1h-1ZM530 368h1v2h-1ZM531 366h1v2h-1ZM532 364h1v2h-1ZM533 362h1v2h-1ZM534 360h1v2h-1ZM535 358h1v2h-1ZM536 356h1v2h-1ZM537 354h1v2h-1ZM538 352h1v2h-1ZM539 351h1v1h-1ZM540 350h1v1h-1ZM541 349h1v1h-1ZM542 347h1v2h-1ZM543 346h1v1h-1ZM544 344h1v2h-1ZM545 343h1v1h-1ZM546 341h1v2h-1ZM547 340h1v1h-1ZM548 339h1v1h-1ZM549 338h1v1h-1ZM550 337h1v1h-1ZM551 337h1v1h-1ZM552 336h1v1h-1ZM553 335h1v1h-1ZM554 334h1v1h-1ZM555 333h1v1h-1ZM556 332h1v1h-1ZM557 331h1v1h-1ZM558 330h1v1h-1ZM559 329h1v1h-1ZM560 328h1v1h-1ZM561 327h1v1h-1ZM562 326h1v1h-1ZM563 325h1v1h-1ZM564 324h1v1h-1ZM565 323h1v1h-1ZM566 322h1v1h-1ZM567 321h1v1h-1ZM568 320h1v1h-1ZM569 319h1v1h-1ZM570 318h1v1h-1ZM571 318h1v1h-1ZM572 318h1v1h-1ZM573 318h1v1h-1ZM574 318h1v1h-1ZM575 318h1v1h-1ZM576 319h1v1h-1ZM577 319h1v1h-1ZM578 319h1v1h-1ZM579 319h1v1h-1ZM580 320h1v1h-1ZM581 320h1v1h-1ZM582 320h1v1h-1ZM583 320h1v1h-1ZM584 321h1v1h-1ZM585 322h1v1h-1ZM586 323h1v1h-1ZM587 324h1v1h-1ZM588 325h1v1h-1ZM589 325h1v1h-1ZM590 326h1v1h-1ZM591 326h1v1h-1ZM592 327h1v1h-1ZM593 327h1v1h-1ZM594 328h1v1h-1ZM595 328h1v1h-1ZM596 329h1v1h-1ZM597 329h1v1h-1ZM598 330h1v1h-1ZM599 330h1v1h-1ZM600 331h1v1h-1ZM601 332h1v1h-1ZM602 333h1v1h-1ZM603 333h1v1h-1ZM604 334h1v2h-1ZM605 336h1v1h-1ZM606 337h1v2h-1ZM607 339h1v1h-1ZM608 340h1v2h-1ZM609 342h1v1h-1ZM610 343h1v2h-1ZM611 345h1v2h-1ZM612 347h1v2h-1ZM613 349h1v2h-1ZM614 351h1v2h-1ZM615 353h1v3h-1ZM616 356h1v2h-1ZM617 358h1v2h-1ZM618 360h1v2h-1ZM619 362h1v2h-1ZM620 364h1v2h-1ZM621 366h1v3h-1ZM622 369h1v2h-1ZM623 371h1v3h-1ZM624 374h1v2h-1ZM625 376h1v3h-1ZM626 379h1v2h-1ZM627 381h1v3h-1ZM628 384h1v2h-1ZM629 386h1v3h-1ZM630 389h1v2h-1ZM631 391h1v2h-1ZM632 393h1v2h-1ZM633 395h1v2h-1ZM634 397h1v2h-1ZM635 399h1v2h-1ZM636 401h1v2h-1ZM637 403h1v1h-1ZM638 404h1v2h-1ZM639 406h1v1h-1ZM640 407h1v2h-1ZM641 409h1v1h-1ZM642 410h1v2h-1ZM643 412h1v2h-1ZM644 414h1v2h-1ZM645 416h1v1h-1ZM646 417h1v1h-1ZM647 418h1v1h-1ZM648 419h1v1h-1ZM649 419h1v1h-1ZM650 420h1v1h-1ZM651 420h1v1h-1ZM652 420h1v1h-1ZM653 420h1v1h-1ZM654 421h1v1h-1ZM655 421h1v1h-1ZM656 422h1v1h-1ZM657 422h1v1h-1ZM658 422h1v1h-1ZM659 422h1v1h-1ZM660 423h1v1h-1ZM661 423h1v1h-1ZM662 423h1v1h-1ZM663 423h1v1h-1ZM664 423h1v1h-1ZM665 423h1v1h-1ZM666 422h1v1h-1ZM667 422h1v1h-1ZM668 421h1v1h-1ZM669 420h1v1h-1ZM670 419h1v1h-1ZM671 418h1v1h-1ZM672 416h1v2h-1ZM673 415h1v1h-1ZM674 414h1v1h-1ZM675 413h1v1h-1ZM676 412h1v1h-1ZM677 411h1v1h-1ZM678 409h1v2h-1ZM679 408h1v1h-1ZM680 407h1v1h-1ZM681 406h1v1h-1ZM682 405h1v1h-1ZM683 405h1v1h-1ZM684 404h1v1h-1ZM685 403h1v1h-1ZM686 402h1v1h-1ZM687 402h1v1h-1ZM688 401h1v1h-1ZM689 401h1v1h-1ZM690 401h1v1h-1ZM691 401h1v1h-1ZM692 401h1v1h-1ZM693 401h1v1h-1ZM694 402h1v1h-1ZM695 402h1v1h-1ZM696 402h1v1h-1ZM697 402h1v1h-1ZM698 403h1v1h-1ZM699 403h1v1h-1ZM700 404h1v1h-1ZM701 404h1v1h-1ZM702 405h1v1h-1ZM703 405h1v1h-1ZM704 405h1v1h-1ZM705 405h1v1h-1ZM706 406h1v1h-1ZM707 406h1v1h-1ZM708 407h1v1h-1ZM709 408h1v1h-1ZM710 409h1v2h-1ZM711 411h1v2h-1ZM712 413h1v2h-1ZM713 415h1v1h-1ZM714 416h1v2h-1ZM715 418h1v3h-1ZM716 421h1v2h-1ZM717 423h1v2h-1ZM718 425h1v1h-1ZM719 426h1v1h-1ZM720 427h1v2h-1ZM721 429h1v1h-1ZM722 430h1v2h-1ZM723 432h1v2h-1ZM724 434h1v2h-1ZM725 436h1v1h-1ZM726 437h1v2h-1ZM727 439h1v1h-1ZM728 440h1v2h-1ZM729 442h1v2h-1ZM730 444h1v1h-1ZM731 445h1v1h-1ZM732 446h1v1h-1ZM733 446h1v1h-1ZM734 447h1v1h-1ZM735 447h1v1h-1ZM736 446h1v1h-1ZM737 446h1v1h-1ZM738 446h1v1h-1ZM739 446h1v1h-1ZM740 445h1v1h-1ZM741 445h1v1h-1ZM742 445h1v1h-1ZM743 445h1v1h-1ZM744 444h1v1h-1ZM745 444h1v1h-1ZM746 443h1v1h-1ZM747 443h1v1h-1ZM748 442h1v1h-1ZM749 442h1v1h-1ZM750 441h1v1h-1ZM751 440h1v1h-1ZM752 439h1v1h-1ZM753 438h1v1h-1ZM754 437h1v1h-1ZM755 436h1v1h-1ZM756 435h1v1h-1ZM757 434h1v1h-1ZM758 433h1v1h-1ZM759 432h1v1h-1ZM760 431h1v1h-1ZM761 430h1v1h-1ZM762 429h1v1h-1ZM763 428h1v1h-1ZM764 426h1v2h-1ZM765 425h1v1h-1ZM766 423h1v2h-1ZM767 422h1v1h-1ZM768 421h1v1h-1ZM769 420h1v1h-1ZM770 418h1v2h-1ZM771 417h1v1h-1ZM772 416h1v1h-1ZM773 415h1v1h-1ZM774 414h1v1h-1ZM775 413h1v1h-1ZM776 412h1v1h-1ZM777 411h1v1h-1ZM778 410h1v1h-1ZM779 410h1v1h-1ZM780 410h1v1h-1ZM781 410h1v1h-1ZM782 409h1v1h-1ZM783 409h1v1h-1ZM784 408h1v1h-1ZM785 408h1v1h-1ZM786 407h1v1h-1ZM787 407h1v1h-1ZM788 406h1v1h-1ZM789 405h1v1h-1ZM790 404h1v1h-1ZM791 403h1v1h-1ZM792 402h1v1h-1ZM793 401h1v1h-1ZM794 400h1v1h-1ZM795 399h1v1h-1ZM796 398h1v1h-1ZM797 398h1v1h-1ZM798 397h1v1h-1ZM799 396h1v1h-1ZM800 395h1v1h-1ZM801 394h1v1h-1ZM802 393h1v1h-1ZM803 393h1v1h-1ZM804 392h1v1h-1ZM805 391h1v1h-1ZM806 390h1v1h-1ZM807 389h1v1h-1ZM808 388h1v1h-1ZM809 387h1v1h-1ZM810 386h1v1h-1ZM811 385h1v1h-1ZM812 384h1v1h-1ZM813 383h1v1h-1ZM814 382h1v1h-1ZM815 381h1v1h-1ZM816 380h1v1h-1ZM817 379h1v1h-1ZM818 378h1v1h-1ZM819 378h1v1h-1ZM820 377h1v1h-1ZM821 376h1v1h-1ZM822 375h1v1h-1ZM823 374h1v1h-1ZM824 373h1v1h-1ZM825 372h1v1h-1ZM826 370h1v2h-1ZM827 369h1v1h-1ZM828 367h1v2h-1ZM829 366h1v1h-1ZM830 365h1v1h-1ZM831 364h1v1h-1ZM832 362h1v2h-1ZM833 361h1v1h-1ZM834 360h1v1h-1ZM835 359h1v1h-1ZM836 358h1v1h-1ZM837 357h1v1h-1ZM838 356h1v1h-1ZM839 355h1v1h-1ZM840 354h1v1h-1ZM841 353h1v1h-1ZM842 351h1v2h-1ZM843 350h1v1h-1ZM844 348h1v2h-1ZM845 347h1v1h-1ZM846 345h1v2h-1ZM847 344h1v1h-1ZM848 342h1v2h-1ZM849 341h1v1h-1ZM850 340h1v1h-1ZM851 339h1v1h-1ZM852 338h1v1h-1ZM853 337h1v1h-1ZM854 336h1v1h-1ZM855 335h1v1h-1ZM856 334h1v1h-1ZM857 333h1v1h-1ZM858 332h1v1h-1ZM859 332h1v1h-1ZM860 331h1v1h-1ZM861 330h1v1h-1ZM862 329h1v1h-1ZM863 328h1v1h-1ZM864 327h1v1h-1ZM865 326h1v1h-1ZM866 325h1v1h-1ZM867 325h1v1h-1ZM868 324h1v1h-1ZM869 324h1v1h-1ZM870 323h1v1h-1ZM871 323h1v1h-1ZM872 323h1v1h-1ZM873 323h1v1h-1ZM874 324h1v1h-1ZM875 324h1v1h-1ZM876 324h1v1h-1ZM877 324h1v1h-1ZM878 325h1v1h-1ZM879 326h1v1h-1ZM880 327h1v1h-1ZM881 327h1v1h-1ZM882 328h1v1h-1ZM883 329h1v1h-1ZM884 330h1v1h-1ZM885 331h1v1h-1ZM886 332h1v1h-1ZM887 333h1v1h-1ZM888 334h1v2h-1ZM889 336h1v1h-1ZM890 337h1v1h-1ZM891 338h1v1h-1ZM892 339h1v1h-1ZM893 340h1v1h-1ZM894 341h1v1h-1ZM895 342h1v1h-1ZM896 343h1v1h-1ZM897 343h1v1h-1ZM898 344h1v1h-1ZM899 345h1v1h-1ZM900 346h1v1h-1ZM901 346h1v1h-1ZM902 347h1v1h-1ZM903 347h1v1h-1ZM904 348h1v1h-1ZM905 349h1v1h-1ZM906 350h1v1h-1ZM907 350h1v1h-1ZM908 351h1v1h-1ZM909 352h1v1h-1ZM910 353h1v1h-1ZM911 354h1v1h-1ZM912 355h1v1h-1ZM913 356h1v1h-1ZM914 357h1v1h-1ZM915 358h1v1h-1ZM916 359h1v1h-1ZM917 360h1v1h-1ZM918 361h1v1h-1ZM919 361h1v1h-1ZM920 362h1v1h-1ZM921 362h1v1h-1ZM922 362h1v1h-1ZM923 362h1v1h-1ZM924 362h1v1h-1ZM925 362h1v1h-1ZM926 362h1v1h-1ZM927 362h1v1h-1Z" fill="#0000ff" shape-rendering="crispEdges"/>
<path d="M63 102h1v1h-1ZM64 103h1v2h-1ZM65 105h1v1h-1ZM66 106h1v2h-1ZM67 108h1v1h-1ZM68 109h1v1h-1ZM69 110h1v1h-1ZM70 111h1v1h-1ZM71 112h1v1h-1ZM72 113h1v1h-1ZM73 114h1v1h-1ZM74 115h1v1h-1ZM75 116h1v1h-1ZM76 117h1v2h-1ZM77 119h1v2h-1ZM78 121h1v1h-1ZM79 121h1v1h-1ZM80 121h1v1h-1ZM81 121h1v1h-1ZM82 120h1v1h-1ZM83 119h1v1h-1ZM84 117h1v2h-1ZM85 116h1v1h-1ZM86 114h1v2h-1ZM87 113h1v1h-1ZM88 111h1v2h-1ZM89 110h1v1h-1ZM90 108h1v2h-1ZM91 106h1v2h-1Z" fill="#ff0000" shape-rendering="crispEdges"/>
<path d="M125 102h1v1h-1ZM126 103h1v2h-1ZM127 105h1v1h-1ZM128 106h1v2h-1ZM129 108h1v2h-1ZM130 110h1v2h-1ZM131 112h1v3h-1ZM132 115h1v3h-1ZM133 118h1v2h-1ZM134 120h1v2h-1ZM135 122h1v1h-1ZM136 123h1v2h-1ZM137 125h1v1h-1ZM138 126h1v1h-1ZM139 127h1v1h-1ZM140 128h1v1h-1ZM141 129h1v1h-1ZM142 130h1v1h-1ZM143 131h1v1h-1ZM144 132h1v2h-1ZM145 134h1v1h-1ZM146 135h1v1h-1ZM147 136h1v2h-1ZM148 138h1v2h-1ZM149 140h1v2h-1ZM150 142h1v2h-1ZM151 144h1v1h-1ZM152 145h1v1h-1ZM153 146h1v1h-1ZM154 145h1v1h-1ZM155 145h1v1h-1ZM156 144h1v1h-1ZM157 144h1v1h-1ZM158 143h1v1h-1ZM159 142h1v1h-1ZM160 141h1v1h-1ZM161 141h1v1h-1ZM162 141h1v1h-1ZM163 141h1v1h-1ZM164 142h1v1h-1ZM165 142h1v1h-1ZM166 143h1v2h-1ZM167 145h1v2h-1ZM168 147h1v4h-1ZM169 151h1v3h-1ZM170 154h1v2h-1ZM171 156h1v3h-1ZM172 159h1v4h-1ZM173 163h1v5h-1ZM174 168h1v5h-1ZM175 173h1v5h-1ZM176 178h1v5h-1ZM177 183h1v5h-1ZM178 188h1v6h-1ZM179 194h1v6h-1ZM180 200h1v6h-1ZM181 206h1v6h-1ZM182 212h1v6h-1ZM183 218h1v6h-1ZM184 224h1v7h-1ZM185 231h1v6h-1ZM186 237h1v5h-1ZM187 242h1v5h-1ZM188 247h1v5h-1ZM189 252h1v6h-1ZM190 258h1v7h-1ZM191 265h1v6h-1ZM192 271h1v4h-1ZM193 275h1v4h-1ZM194 279h1v4h-1ZM195 283h1v4h-1ZM196 287h1v3h-1ZM197 290h1v3h-1ZM198 293h1v2h-1ZM199 295h1v2h-1ZM200 297h1v2h-1ZM201 299h1v1h-1ZM202 300h1v2h-1ZM203 302h1v1h-1ZM204 303h1v2h-1ZM205 305h1v1h-1ZM206 305h1v1h-1ZM207 305h1v1h-1ZM208 305h1v1h-1ZM209 305h1v1h-1ZM210 305h1v1h-1ZM211 305h1v1h-1ZM212 304h1v1h-1ZM213 303h1v1h-1ZM214 302h1v1h-1ZM215 301h1v1h-1ZM216 300h1v1h-1ZM217 299h1v1h-1ZM218 298h1v1h-1ZM219 297h1v1h-1ZM220 295h1v2h-1ZM221 294h1v1h-1ZM222 293h1v1h-1ZM223 292h1v1h-1ZM224 290h1v2h-1ZM225 289h1v1h-1ZM226 287h1v2h-1ZM227 286h1v1h-1ZM228 285h1v1h-1ZM229 285h1v1h-1ZM230 285h1v1h-1ZM231 285h1v1h-1ZM232 283h1v2h-1ZM233 282h1v1h-1ZM234 281h1v1h-1ZM235 280h1v1h-1ZM236 279h1v1h-1ZM237 279h1v1h-1ZM238 278h1v1h-1ZM239 277h1v1h-1ZM240 276h1v1h-1ZM241 276h1v1h-1ZM242 275h1v1h-1ZM243 275h1v1h-1ZM244 274h1v1h-1ZM245 274h1v1h-1ZM246 273h1v1h-1ZM247 273h1v1h-1ZM248 272h1v1h-1ZM249 272h1v1h-1ZM250 273h1v1h-1ZM251 273h1v1h-1ZM252 274h1v1h-1ZM253 274h1v1h-1ZM254 274h1v1h-1ZM255 274h1v1h-1ZM256 274h1v1h-1ZM257 274h1v1h-1ZM258 274h1v1h-1ZM259 274h1v1h-1ZM260 274h1v1h-1ZM261 274h1v1h-1ZM262 275h1v1h-1ZM263 275h1v1h-1ZM264 275h1v1h-1ZM265 275h1v1h-1ZM266 276h1v1h-1ZM267 276h1v1h-1ZM268 277h1v1h-1ZM269 278h1v1h-1ZM270 279h1v2h-1ZM271 281h1v1h-1ZM272 282h1v1h-1ZM273 283h1v1h-1ZM274 284h1v2h-1ZM275 286h1v1h-1ZM276 287h1v1h-1ZM277 288h1v1h-1ZM278 289h1v1h-1ZM279 290h1v1h-1ZM280 291h1v1h-1ZM281 292h1v1h-1ZM282 293h1v2h-1ZM283 295h1v2h-1ZM284 297h1v2h-1ZM285 299h1v1h-1ZM286 300h1v2h-1ZM287 302h1v2h-1ZM288 304h1v2h-1ZM289 306h1v2h-1ZM290 308h1v2h-1ZM291 310h1v1h-1ZM292 311h1v2h-1ZM293 313h1v2h-1ZM294 315h1v2h-1ZM295 317h1v2h-1ZM296 319h1v2h-1ZM297 321h1v1h-1ZM298 322h1v2h-1ZM299 324h1v1h-1ZM300 325h1v2h-1ZM301 327h1v1h-1ZM302 328h1v1h-1ZM303 329h1v1h-1ZM304 330h1v2h-1ZM305 332h1v1h-1ZM306 333h1v2h-1ZM307 335h1v1h-1ZM308 336h1v1h-1ZM309 337h1v1h-1ZM310 338h1v1h-1ZM311 338h1v1h-1ZM312 337h1v1h-1ZM313 337h1v1h-1ZM314 337h1v1h-1ZM315 337h1v1h-1ZM316 336h1v1h-1ZM317 336h1v1h-1ZM318 335h1v1h-1ZM319 335h1v1h-1ZM320 335h1v1h-1ZM321 335h1v1h-1ZM322 334h1v1h-1ZM323 334h1v1h-1ZM324 333h1v1h-1ZM325 333h1v1h-1ZM326 333h1v1h-1ZM327 333h1v1h-1ZM328 333h1v1h-1ZM329 333h1v1h-1ZM330 333h1v1h-1ZM331 333h1v1h-1ZM332 333h1v1h-1ZM333 333h1v1h-1ZM334 334h1v1h-1ZM335 334h1v1h-1ZM336 335h1v1h-1ZM337 335h1v1h-1ZM338 336h1v1h-1ZM339 337h1v1h-1ZM340 338h1v2h-1ZM341 340h1v1h-1ZM342 341h1v2h-1ZM343 343h1v1h-1ZM344 344h1v2h-1ZM345 346h1v2h-1ZM346 348h1v2h-1ZM347 350h1v1h-1ZM348 351h1v2h-1ZM349 353h1v1h-1ZM350 354h1v1h-1ZM351 355h1v1h-1ZM352 356h1v1h-1ZM353 357h1v1h-1ZM354 358h1v1h-1ZM355 359h1v1h-1ZM356 359h1v1h-1ZM357 359h1v1h-1ZM358 358h1v1h-1ZM359 358h1v1h-1ZM360 358h1v1h-1ZM361 358h1v1h-1ZM362 357h1v1h-1ZM363 357h1v1h-1ZM364 356h1v1h-1ZM365 356h1v1h-1ZM366 355h1v1h-1ZM367 354h1v1h-1ZM368 352h1v2h-1ZM369 351h1v1h-1ZM370 349h1v2h-1ZM371 348h1v1h-1ZM372 346h1v2h-1ZM373 345h1v1h-1ZM374 344h1v1h-1ZM375 343h1v1h-1ZM376 342h1v1h-1ZM377 341h1v1h-1ZM378 339h1v2h-1ZM379 338h1v1h-1ZM380 336h1v2h-1ZM381 335h1v1h-1ZM382 334h1v1h-1ZM383 334h1v1h-1ZM384 333h1v1h-1ZM385 332h1v1h-1ZM386 332h1v1h-1ZM387 332h1v1h-1ZM388 331h1v1h-1ZM389 331h1v1h-1ZM390 332h1v1h-1ZM391 333h1v1h-1ZM392 334h1v2h-1ZM393 336h1v1h-1ZM394 337h1v2h-1ZM395 339h1v1h-1ZM396 340h1v2h-1ZM397 342h1v2h-1ZM398 344h1v2h-1ZM399 346h1v2h-1ZM400 348h1v2h-1ZM401 350h1v2h-1ZM402 352h1v2h-1ZM403 354h1v1h-1ZM404 355h1v1h-1ZM405 355h1v1h-1ZM406 356h1v1h-1ZM407 357h1v1h-1ZM408 358h1v1h-1ZM409 358h1v1h-1ZM410 359h1v1h-1ZM411 359h1v1h-1ZM412 360h1v1h-1ZM413 360h1v1h-1ZM414 361h1v1h-1ZM415 362h1v1h-1ZM416 363h1v1h-1ZM417 363h1v1h-1ZM418 364h1v1h-1ZM419 364h1v1h-1ZM420 364h1v1h-1ZM421 364h1v1h-1ZM422 363h1v1h-1ZM423 362h1v1h-1ZM424 361h1v1h-1ZM425 361h1v1h-1ZM426 360h1v1h-1ZM427 360h1v1h-1ZM428 360h1v1h-1ZM429 360h1v1h-1ZM430 361h1v1h-1ZM431 361h1v1h-1ZM432 361h1v1h-1ZM433 361h1v1h-1ZM434 362h1v1h-1ZM435 363h1v1h-1ZM436 364h1v1h-1ZM437 365h1v1h-1ZM438 366h1v1h-1ZM439 366h1v1h-1ZM440 367h1v1h-1ZM441 367h1v1h-1ZM442 367h1v1h-1ZM443 367h1v1h-1ZM444 368h1v1h-1ZM445 368h1v1h-1ZM446 369h1v2h-1ZM447 371h1v2h-1ZM448 373h1v2h-1ZM449 375h1v1h-1ZM450 376h1v1h-1ZM451 376h1v1h-1ZM452 377h1v1h-1ZM453 377h1v1h-1ZM454 378h1v1h-1ZM455 379h1v1h-1ZM456 380h1v1h-1ZM457 380h1v1h-1ZM458 381h1v1h-1ZM459 382h1v1h-1ZM460 383h1v1h-1ZM461 383h1v1h-1ZM462 384h1v1h-1ZM463 384h1v1h-1ZM464 384h1v1h-1ZM465 384h1v1h-1ZM466 384h1v1h-1ZM467 384h1v1h-1ZM468 384h1v1h-1ZM469 384h1v1h-1ZM470 384h1v1h-1ZM471 384h1v1h-1ZM472 384h1v1h-1ZM473 384h1v1h-1ZM474 384h1v1h-1ZM475 384h1v1h-1ZM476 384h1v1h-1ZM477 384h1v1h-1ZM478 384h1v1h-1ZM479 384h1v1h-1ZM480 385h1v1h-1ZM481 385h1v1h-1ZM482 385h1v1h-1ZM483 385h1v1h-1ZM484 385h1v1h-1ZM485 385h1v1h-1ZM486 386h1v1h-1ZM487 386h1v1h-1ZM488 387h1v1h-1ZM489 387h1v1h-1ZM490 388h1v1h-1ZM491 388h1v1h-1ZM492 388h1v1h-1ZM493 388h1v1h-1ZM494 389h1v1h-1ZM495 389h1v1h-1ZM496 389h1v1h-1ZM497 389h1v1h-1ZM498 389h1v1h-1ZM499 389h1v1h-1ZM500 389h1v1h-1ZM501 389h1v1h-1ZM502 388h1v1h-1ZM503 388h1v1h-1ZM504 388h1v1h-1ZM505 388h1v1h-1ZM506 387h1v1h-1ZM507 386h1v1h-1ZM508 385h1v1h-1ZM509 385h1v1h-1ZM510 383h1v2h-1ZM511 382h1v1h-1ZM512 381h1v1h-1ZM513 380h1v1h-1ZM514 378h1v2h-1ZM515 377h1v1h-1ZM516 375h1v2h-1ZM517 374h1v1h-1ZM518 373h1v1h-1ZM519 372h1v1h-1ZM520 371h1v1h-1ZM521 370h1v1h-1ZM522 369h1v1h-1ZM523 368h1v1h-1ZM524 367h1v1h-1ZM525 367h1v1h-1ZM526 366h1v1h-1ZM527 365h1v1h-1ZM528 364h1v1h-1ZM529 363h1v1h-1ZM530 361h1v2h-1ZM531 360h1v1h-1ZM532 358h1v2h-1ZM533 356h1v2h-1ZM534 354h1v2h-1ZM535 351h1v3h-1ZM536 349h1v2h-1ZM537 347h1v2h-1ZM538 345h1v2h-1ZM539 344h1v1h-1ZM540 343h1v1h-1ZM541 342h1v1h-1ZM542 340h1v2h-1ZM543 338h1v2h-1ZM544 336h1v2h-1ZM545 335h1v1h-1ZM546 333h1v2h-1ZM547 331h1v2h-1ZM548 330h1v1h-1ZM549 329h1v1h-1ZM550 328h1v1h-1ZM551 327h1v1h-1ZM552 325h1v2h-1ZM553 324h1v1h-1ZM554 322h1v2h-1ZM555 321h1v1h-1ZM556 320h1v1h-1ZM557 319h1v1h-1ZM558 318h1v1h-1ZM559 317h1v1h-1ZM560 316h1v1h-1ZM561 316h1v1h-1ZM562 317h1v1h-1ZM563 317h1v1h-1ZM564 317h1v1h-1ZM565 317h1v1h-1ZM566 318h1v1h-1ZM567 318h1v1h-1ZM568 318h1v1h-1ZM569 318h1v1h-1ZM570 319h1v1h-1ZM571 319h1v1h-1ZM572 320h1v1h-1ZM573 320h1v1h-1ZM574 321h1v1h-1ZM575 321h1v1h-1ZM576 321h1v1h-1ZM577 321h1v1h-1ZM578 321h1v1h-1ZM579 321h1v1h-1ZM580 321h1v1h-1ZM581 321h1v1h-1ZM582 322h1v1h-1ZM583 322h1v1h-1ZM584 323h1v1h-1ZM585 323h1v1h-1ZM586 324h1v1h-1ZM587 325h1v1h-1ZM588 326h1v1h-1ZM589 327h1v1h-1ZM590 328h1v1h-1ZM591 329h1v1h-1ZM592 330h1v1h-1ZM593 331h1v1h-1ZM594 332h1v1h-1ZM595 333h1v1h-1ZM596 334h1v1h-1ZM597 334h1v1h-1ZM598 335h1v1h-1ZM599 336h1v1h-1ZM600 337h1v1h-1ZM601 338h1v1h-1ZM602 339h1v2h-1ZM603 341h1v1h-1ZM604 342h1v2h-1ZM605 344h1v1h-1ZM606 345h1v2h-1ZM607 347h1v2h-1ZM608 349h1v3h-1ZM609 352h1v3h-1ZM610 355h1v3h-1ZM611 358h1v3h-1ZM612 361h1v2h-1ZM613 363h1v2h-1ZM614 365h1v2h-1ZM615 367h1v2h-1ZM616 369h1v2h-1ZM617 371h1v2h-1ZM618 373h1v2h-1ZM619 375h1v3h-1ZM620 378h1v2h-1ZM621 380h1v3h-1ZM622 383h1v2h-1ZM623 385h1v3h-1ZM624 388h1v2h-1ZM625 390h1v3h-1ZM626 393h1v3h-1ZM627 396h1v3h-1ZM628 399h1v3h-1ZM629 402h1v3h-1ZM630 405h1v3h-1ZM631 408h1v2h-1ZM632 410h1v2h-1ZM633 412h1v1h-1ZM634 413h1v2h-1ZM635 415h1v2h-1ZM636 417h1v1h-1ZM637 418h1v1h-1ZM638 419h1v1h-1ZM639 420h1v1h-1ZM640 421h1v1h-1ZM641 422h1v1h-1ZM642 423h1v1h-1ZM643 423h1v1h-1ZM644 424h1v1h-1ZM645 424h1v1h-1ZM646 425h1v1h-1ZM647 425h1v1h-1ZM648 425h1v1h-1ZM649 425h1v1h-1ZM650 425h1v1h-1ZM651 425h1v1h-1ZM652 425h1v1h-1ZM653 425h1v1h-1ZM654 425h1v1h-1ZM655 425h1v1h-1ZM656 425h1v1h-1ZM657 425h1v1h-1ZM658 424h1v1h-1ZM659 424h1v1h-1ZM660 423h1v1h-1ZM661 423h1v1h-1ZM662 422h1v1h-1ZM663 422h1v1h-1ZM664 421h1v1h-1ZM665 420h1v1h-1ZM666 418h1v2h-1ZM667 417h1v1h-1ZM668 415h1v2h-1ZM669 414h1v1h-1ZM670 412h1v2h-1ZM671 411h1v1h-1ZM672 409h1v2h-1ZM673 408h1v1h-1ZM674 407h1v1h-1ZM675 406h1v1h-1ZM676 405h1v1h-1ZM677 404h1v1h-1ZM678 403h1v1h-1ZM679 402h1v1h-1ZM680 401h1v1h-1ZM681 400h1v1h-1ZM682 398h1v2h-1ZM683 397h1v1h-1ZM684 396h1v1h-1ZM685 395h1v1h-1ZM686 394h1v1h-1ZM687 394h1v1h-1ZM688 393h1v1h-1ZM689 392h1v1h-1ZM690 391h1v1h-1ZM691 391h1v1h-1ZM692 392h1v1h-1ZM693 393h1v1h-1ZM694 394h1v2h-1ZM695 396h1v1h-1ZM696 397h1v2h-1ZM697 399h1v2h-1ZM698 401h1v2h-1ZM699 403h1v2h-1ZM700 405h1v2h-1ZM701 407h1v1h-1ZM702 408h1v2h-1ZM703 410h1v2h-1ZM704 412h1v2h-1ZM705 414h1v3h-1ZM706 417h1v2h-1ZM707 419h1v2h-1ZM708 421h1v2h-1ZM709 423h1v2h-1ZM710 425h1v2h-1ZM711 427h1v1h-1ZM712 428h1v2h-1ZM713 430h1v2h-1ZM714 432h1v2h-1ZM715 434h1v3h-1ZM716 437h1v2h-1ZM717 439h1v2h-1ZM718 441h1v2h-1ZM719 443h1v1h-1ZM720 444h1v2h-1ZM721 446h1v1h-1ZM722 447h1v1h-1ZM723 448h1v1h-1ZM724 449h1v1h-1ZM725 450h1v1h-1ZM726 451h1v1h-1ZM727 452h1v1h-1ZM728 453h1v1h-1ZM729 453h1v1h-1ZM730 453h1v1h-1ZM731 453h1v1h-1ZM732 454h1v1h-1ZM733 454h1v1h-1ZM734 453h1v1h-1ZM735 453h1v1h-1ZM736 452h1v1h-1ZM737 451h1v1h-1ZM738 449h1v2h-1ZM739 448h1v1h-1ZM740 446h1v2h-1ZM741 445h1v1h-1ZM742 444h1v1h-1ZM743 443h1v1h-1ZM744 441h1v2h-1ZM745 440h1v1h-1ZM746 438h1v2h-1ZM747 437h1v1h-1ZM748 435h1v2h-1ZM749 434h1v1h-1ZM750 432h1v2h-1ZM751 431h1v1h-1ZM752 429h1v2h-1ZM753 428h1v1h-1ZM754 426h1v2h-1ZM755 424h1v2h-1ZM756 423h1v1h-1ZM757 422h1v1h-1ZM758 421h1v1h-1ZM759 420h1v1h-1ZM760 419h1v1h-1ZM761 418h1v1h-1ZM762 417h1v1h-1ZM763 416h1v1h-1ZM764 415h1v1h-1ZM765 414h1v1h-1ZM766 413h1v1h-1ZM767 413h1v1h-1ZM768 412h1v1h-1ZM769 412h1v1h-1ZM770 411h1v1h-1ZM771 410h1v1h-1ZM772 409h1v1h-1ZM773 408h1v1h-1ZM774 407h1v1h-1ZM775 407h1v1h-1ZM776 406h1v1h-1ZM777 406h1v1h-1ZM778 406h1v1h-1ZM779 406h1v1h-1ZM780 406h1v1h-1ZM781 406h1v1h-1ZM782 406h1v1h-1ZM783 406h1v1h-1ZM784 405h1v1h-1ZM785 405h1v1h-1ZM786 404h1v1h-1ZM787 404h1v1h-1ZM788 402h1v2h-1ZM789 401h1v1h-1ZM790 399h1v2h-1ZM791 398h1v1h-1ZM792 397h1v1h-1ZM793 396h1v1h-1ZM794 395h1v1h-1ZM795 394h1v1h-1ZM796 393h1v1h-1ZM797 392h1v1h-1ZM798 391h1v1h-1ZM799 390h1v1h-1ZM800 389h1v1h-1ZM801 388h1v1h-1ZM802 387h1v1h-1ZM803 386h1v1h-1ZM804 384h1v2h-1ZM805 383h1v1h-1ZM806 381h1v2h-1ZM807 380h1v1h-1ZM808 379h1v1h-1ZM809 378h1v1h-1ZM810 376h1v2h-1ZM811 375h1v1h-1ZM812 374h1v1h-1ZM813 373h1v1h-1ZM814 372h1v1h-1ZM815 372h1v1h-1ZM816 371h1v1h-1ZM817 371h1v1h-1ZM818 371h1v1h-1ZM819 371h1v1h-1ZM820 370h1v1h-1ZM821 370h1v1h-1ZM822 369h1v1h-1ZM823 368h1v1h-1ZM824 366h1v2h-1ZM825 365h1v1h-1ZM826 363h1v2h-1ZM827 362h1v1h-1ZM828 361h1v1h-1ZM829 360h1v1h-1ZM830 359h1v1h-1ZM831 359h1v1h-1ZM832 358h1v1h-1ZM833 357h1v1h-1ZM834 355h1v2h-1ZM835 354h1v1h-1ZM836 353h1v1h-1ZM837 352h1v1h-1ZM838 350h1v2h-1ZM839 349h1v1h-1ZM840 347h1v2h-1ZM841 345h1v2h-1ZM842 343h1v2h-1ZM843 341h1v2h-1ZM844 339h1v2h-1ZM845 337h1v2h-1ZM846 335h1v2h-1ZM847 333h1v2h-1ZM848 331h1v2h-1ZM849 329h1v2h-1ZM850 328h1v1h-1ZM851 328h1v1h-1ZM852 327h1v1h-1ZM853 326h1v1h-1ZM854 325h1v1h-1ZM855 325h1v1h-1ZM856 324h1v1h-1ZM857 323h1v1h-1ZM858 322h1v1h-1ZM859 322h1v1h-1ZM860 321h1v1h-1ZM861 321h1v1h-1ZM862 321h1v1h-1ZM863 321h1v1h-1ZM864 320h1v1h-1ZM865 320h1v1h-1ZM866 319h1v1h-1ZM867 319h1v1h-1ZM868 320h1v1h-1ZM869 320h1v1h-1ZM870 321h1v1h-1ZM871 321h1v1h-1ZM872 322h1v1h-1ZM873 323h1v1h-1ZM874 324h1v1h-1ZM875 325h1v1h-1ZM876 326h1v1h-1ZM877 327h1v1h-1ZM878 328h1v1h-1ZM879 329h1v1h-1ZM880 330h1v2h-1ZM881 332h1v1h-1ZM882 333h1v2h-1ZM883 335h1v1h-1ZM884 336h1v1h-1ZM885 337h1v1h-1ZM886 338h1v2h-1ZM887 340h1v1h-1ZM888 341h1v1h-1ZM889 342h1v1h-1ZM890 343h1v2h-1ZM891 345h1v1h-1ZM892 346h1v2h-1ZM893 348h1v2h-1ZM894 350h1v1h-1ZM895 351h1v1h-1ZM896 352h1v1h-1ZM897 353h1v1h-1ZM898 354h1v1h-1ZM899 354h1v1h-1ZM900 355h1v1h-1ZM901 355h1v1h-1ZM902 356h1v1h-1ZM903 356h1v1h-1ZM904 357h1v1h-1ZM905 357h1v1h-1ZM906 357h1v1h-1ZM907 357h1v1h-1ZM908 357h1v1h-1ZM909 357h1v1h-1ZM910 358h1v1h-1ZM911 358h1v1h-1ZM912 359h1v1h-1ZM913 359h1v1h-1ZM914 360h1v1h-1ZM915 361h1v1h-1ZM916 362h1v1h-1ZM917 362h1v1h-1ZM918 363h1v1h-1ZM919 363h1v1h-1ZM920 363h1v1h-1ZM921 363h1v1h-1ZM922 363h1v1h-1ZM923 363h1v1h-1ZM924 364h1v1h-1ZM925 364h1v1h-1ZM926 364h1v1h-1ZM927 364h1v1h-1Z" fill="#ff0000" shape-rendering="crispEdges"/>
</svg>
<rect x="3" y="74" width="1" height="1" fill="#0000ff"/>
<rect x="3" y="79" width="1" height="1" fill="#ffff00"/>
<rect x="3" y="81" width="1" height="1" fill="#ff0000"/>
<rect x="3" y="155" width="1163" height="2" fill="#ff0000"/>
<rect x="3" y="228" width="1163" height="2" fill="#ff0000"/>
<rect x="3" y="300" width="1163" height="2" fill="#ff0000"/>
<rect x="3" y="370" width="1163" height="2" fill="#00ff00"/>
<rect x="3" y="444" width="1163" height="2" fill="#0000ff"/>
<path d="M3.5 92V104M7.5 95V136M41.5 95V109M55.5 95V133M57.5 122V145M61.5 134V149M63.5 140V156M69.5 95V115M71.5 104V117M73.5 106V122M75.5 107V123M87.5 95V104M89.5 95V113M93.5 95V104M95.5 95V108M99.5 95V104M107.5 95V105M109.5 95V109M111.5 107V113M117.5 95V115M119.5 95V113M125.5 95V122M127.5 114V151M129.5 138V165M133.5 149V163M143.5 138V147M145.5 141V150M149.5 124V144M153.5 136V147M157.5 137V146M161.5 133V146M163.5 138V152M165.5 138V150M167.5 142V230M169.5 221V243M173.5 228V277M175.5 264V285M177.5 271V301M179.5 285V309M183.5 284V307M187.5 286V331M191.5 314V325M193.5 319V333M201.5 289V307M205.5 287V301M207.5 293V307M209.5 293V317M217.5 271V287M225.5 251V273M227.5 266V289M231.5 281V289M237.5 265V289M243.5 269V279M249.5 248V275M251.5 272V285M253.5 271V288M259.5 273V302M263.5 275V287M265.5 280V291M269.5 285V303M271.5 292V319M275.5 296V309M279.5 296V308M281.5 296V314M283.5 305V327M285.5 320V343M289.5 330V342M291.5 336V348M297.5 316V341M299.5 332V346M301.5 337V346M303.5 339V346M305.5 343V360M313.5 328V338M319.5 316V333M329.5 305V353M331.5 340V359M333.5 343V366M341.5 351V367M343.5 348V376M345.5 369V389M347.5 359V382M349.5 374V383M357.5 326V348M361.5 338V351M363.5 345V352M369.5 320V335M373.5 316V329M375.5 321V333M377.5 316V344M381.5 326V336M387.5 319V337M389.5 326V349M391.5 337V380M393.5 350V372M395.5 362V396M409.5 345V358M415.5 342V371M417.5 357V371M421.5 361V373M427.5 360V380M431.5 360V373M433.5 366V376M435.5 366V377M437.5 374V399M441.5 366V378M443.5 369V380M445.5 370V383M447.5 372V390M451.5 374V407M457.5 385V393M459.5 390V400M469.5 373V381M471.5 373V382M477.5 361V400M483.5 391V402M487.5 387V407M489.5 398V407M493.5 391V401M503.5 364V375M505.5 365V375M507.5 369V376M509.5 374V395M515.5 344V361M519.5 353V365M521.5 352V371M523.5 360V387M539.5 307V319M541.5 305V319M543.5 313V320M547.5 298V321M549.5 314V337M559.5 307V324M561.5 312V323M563.5 318V327M567.5 314V325M571.5 306V330M573.5 320V336M581.5 316V344M585.5 307V351M587.5 343V350M589.5 345V351M593.5 338V354M597.5 335V348M599.5 344V351M601.5 347V357M603.5 353V361M605.5 353V372M607.5 364V398M609.5 391V408M611.5 400V408M615.5 399V408M617.5 398V411M619.5 396V415M623.5 411V421M625.5 416V423M629.5 415V431M631.5 425V440M639.5 427V436M641.5 432V443M649.5 413V421M651.5 414V422M655.5 415V430M663.5 416V423M675.5 376V388M677.5 379V391M681.5 382V395M685.5 388V399M687.5 392V398M691.5 394V424M693.5 419V439M695.5 431V440M699.5 429V437M705.5 432V451M709.5 434V458M711.5 448V472M717.5 445V462M719.5 449V466M723.5 453V465M725.5 455V469M735.5 428V442M741.5 416V425M745.5 410V422M747.5 412V423M749.5 412V427M753.5 399V414M757.5 405V418M763.5 409V428M769.5 392V401M771.5 395V403M775.5 389V414M779.5 400V413M781.5 402V416M785.5 394V411M795.5 367V379M797.5 370V380M801.5 371V381M809.5 351V365M811.5 341V371M813.5 350V377M817.5 364V376M819.5 369V379M825.5 332V352M827.5 333V348M837.5 322V338M843.5 313V321M845.5 314V327M849.5 309V323M853.5 311V324M855.5 319V333M857.5 321V333M859.5 322V332M867.5 314V324M869.5 314V333M871.5 318V343M873.5 332V349M875.5 335V347M879.5 339V349M881.5 341V363M887.5 352V364M891.5 355V367M895.5 344V370M899.5 345V357M901.5 353V361M907.5 344V359M909.5 346V361M911.5 356V366M913.5 364V374M915.5 368V390M917.5 379V393M921.5 362V372M923.5 366V375" stroke="#32cd32" stroke-width="1" fill="none" shape-rendering="crispEdges"/>
<path d="M5.5 95V108M9.5 95V114M43.5 95V113M59.5 133V146M65.5 145V156M67.5 95V156M77.5 109V127M79.5 95V120M91.5 95V109M97.5 95V108M101.5 95V104M113.5 104V121M115.5 95V127M121.5 95V113M131.5 155V164M135.5 151V163M137.5 140V164M139.5 136V151M141.5 137V144M147.5 137V148M151.5 136V159M155.5 136V146M159.5 135V147M171.5 225V235M181.5 290V304M185.5 284V314M189.5 317V341M195.5 313V341M197.5 299V339M199.5 287V314M203.5 286V302M211.5 294V316M213.5 293V309M215.5 264V296M219.5 281V291M221.5 269V277M223.5 251V277M229.5 278V290M233.5 269V291M235.5 261V284M239.5 274V285M241.5 269V282M245.5 265V277M247.5 247V274M255.5 278V287M257.5 269V285M261.5 274V285M267.5 286V298M273.5 293V316M277.5 297V306M287.5 330V342M293.5 330V349M295.5 313V340M307.5 331V370M309.5 337V353M311.5 320V348M315.5 326V338M317.5 316V337M321.5 325V331M323.5 324V329M325.5 324V333M327.5 314V327M335.5 353V370M337.5 350V362M339.5 349V366M351.5 369V387M353.5 352V381M355.5 327V358M359.5 339V349M365.5 334V355M367.5 323V336M371.5 318V331M379.5 320V349M383.5 330V339M385.5 323V333M397.5 386V396M399.5 381V392M401.5 374V393M403.5 354V382M405.5 354V365M407.5 346V358M411.5 342V360M413.5 337V355M419.5 364V377M423.5 362V373M425.5 357V376M429.5 360V377M439.5 356V401M449.5 372V396M453.5 388V407M455.5 384V395M461.5 386V409M463.5 384V405M465.5 371V388M467.5 370V386M473.5 372V391M475.5 352V397M479.5 391V405M481.5 388V399M485.5 383V403M491.5 392V404M495.5 384V397M497.5 374V399M499.5 361V391M501.5 364V371M511.5 355V393M513.5 347V371M517.5 356V367M525.5 365V378M527.5 338V395M529.5 337V345M531.5 330V341M533.5 316V324M535.5 312V324M537.5 308V319M545.5 295V321M551.5 327V336M553.5 322V333M555.5 313V327M557.5 304V322M565.5 317V326M569.5 311V322M575.5 321V333M577.5 321V329M579.5 319V327M583.5 301V336M591.5 346V352M595.5 332V351M613.5 402V417M621.5 408V417M627.5 416V424M633.5 428V439M635.5 429V436M637.5 429V438M643.5 413V441M645.5 415V423M647.5 408V426M653.5 411V423M657.5 416V429M659.5 415V425M661.5 416V427M665.5 410V425M667.5 393V423M669.5 373V400M671.5 370V381M673.5 373V381M679.5 380V399M683.5 388V395M689.5 385V403M697.5 433V445M701.5 424V439M703.5 427V445M707.5 416V451M713.5 447V469M715.5 444V459M721.5 456V465M727.5 452V473M729.5 452V468M731.5 442V455M733.5 432V453M737.5 422V440M739.5 414V435M743.5 409V421M751.5 406V420M755.5 404V420M759.5 413V422M761.5 403V419M765.5 403V414M767.5 392V410M773.5 392V409M777.5 398V410M783.5 399V411M787.5 393V421M789.5 372V414M791.5 372V382M793.5 366V378M799.5 371V387M803.5 371V380M805.5 369V377M807.5 354V372M815.5 364V374M821.5 360V380M823.5 339V369M829.5 340V349M831.5 342V351M833.5 335V347M835.5 329V348M839.5 319V336M841.5 313V323M847.5 295V328M851.5 303V316M861.5 322V330M863.5 321V328M865.5 312V322M877.5 338V347M883.5 352V369M885.5 358V373M889.5 358V367M893.5 349V367M897.5 353V372M903.5 349V358M905.5 337V358M919.5 367V396M925.5 364V370M927.5 365V368" stroke="#ff0000" stroke-width="1" fill="none" shape-rendering="crispEdges"/>
<rect x="1167" y="150" width="38" height="11" fill="#ff0000"/>
<text x="1171" y="159" font-size="9.8" fill="#fff" textLength="32" lengthAdjust="spacingAndGlyphs" stroke="#fff" stroke-width="0.2">1.21010</text>
<rect x="1167" y="223" width="38" height="11" fill="#ff0000"/>
<text x="1171" y="232" font-size="9.8" fill="#fff" textLength="32" lengthAdjust="spacingAndGlyphs" stroke="#fff" stroke-width="0.2">1.20004</text>
<rect x="1167" y="295" width="38" height="11" fill="#ff0000"/>
<text x="1171" y="304" font-size="9.8" fill="#fff" textLength="32" lengthAdjust="spacingAndGlyphs" stroke="#fff" stroke-width="0.2">1.18998</text>
<rect x="1167" y="360" width="38" height="11" fill="#000000"/>
<text x="1171" y="369" font-size="9.8" fill="#fff" textLength="32" lengthAdjust="spacingAndGlyphs" stroke="#fff" stroke-width="0.2">1.18108</text>
<rect x="1167" y="365" width="38" height="11" fill="#00ff00"/>
<text x="1171" y="374" font-size="9.8" fill="#fff" textLength="32" lengthAdjust="spacingAndGlyphs" stroke="#fff" stroke-width="0.2">1.18024</text>
<rect x="1167" y="439" width="38" height="11" fill="#0000ff"/>
<text x="1171" y="448" font-size="9.8" fill="#fff" textLength="32" lengthAdjust="spacingAndGlyphs" stroke="#fff" stroke-width="0.2">1.17002</text>
<path d="M3 510h1V517h-1ZM4 510h2V519h-2ZM6 510h2V519h-2ZM8 510h2V518h-2ZM10 510h2V517h-2ZM12 510h2V516h-2ZM14 510h2V515h-2ZM16 510h2V514h-2ZM18 510h2V512h-2ZM20 509h2V510h-2ZM22 508h2V510h-2ZM24 507h2V510h-2ZM26 506h2V510h-2ZM28 505h2V510h-2ZM30 504h2V510h-2ZM32 503h2V510h-2ZM34 504h2V510h-2ZM36 505h2V510h-2ZM38 507h2V510h-2ZM40 508h2V510h-2ZM42 509h2V510h-2ZM44 509h2V510h-2ZM46 510h2V511h-2ZM48 510h2V512h-2ZM50 510h2V513h-2ZM52 510h2V514h-2ZM54 510h2V516h-2ZM56 510h2V519h-2ZM58 510h2V523h-2ZM60 510h2V527h-2ZM62 510h2V530h-2ZM64 510h2V530h-2ZM66 510h2V528h-2ZM68 510h2V525h-2ZM70 510h2V525h-2ZM72 510h2V524h-2ZM74 510h2V524h-2ZM76 510h2V523h-2ZM78 510h2V521h-2ZM80 510h2V518h-2ZM82 510h2V516h-2ZM84 510h2V514h-2ZM86 510h2V514h-2ZM88 510h2V513h-2ZM90 510h2V513h-2ZM92 510h2V512h-2ZM94 510h2V512h-2ZM96 510h2V512h-2ZM98 510h2V511h-2ZM100 510h2V511h-2ZM102 509h2V510h-2ZM104 509h2V510h-2ZM106 510h2V511h-2ZM108 510h2V511h-2ZM110 510h2V511h-2ZM112 510h2V511h-2ZM114 510h2V512h-2ZM116 510h2V512h-2ZM118 510h2V512h-2ZM120 510h2V512h-2ZM122 510h2V513h-2ZM124 510h2V514h-2ZM126 510h2V516h-2ZM128 510h2V519h-2ZM130 510h2V522h-2ZM132 510h2V524h-2ZM134 510h2V526h-2ZM136 510h2V527h-2ZM138 510h2V526h-2ZM140 510h2V526h-2ZM142 510h2V526h-2ZM144 510h2V524h-2ZM146 510h2V523h-2ZM148 510h2V522h-2ZM150 510h2V522h-2ZM152 510h2V521h-2ZM154 510h2V521h-2ZM156 510h2V521h-2ZM158 510h2V521h-2ZM160 510h2V521h-2ZM162 510h2V521h-2ZM164 510h2V521h-2ZM166 510h2V527h-2ZM168 510h2V531h-2ZM170 510h2V535h-2ZM172 510h2V540h-2ZM174 510h2V546h-2ZM176 510h2V553h-2ZM178 510h2V557h-2ZM180 510h2V560h-2ZM182 510h2V562h-2ZM184 510h2V563h-2ZM186 510h2V565h-2ZM188 510h2V565h-2ZM190 510h2V566h-2ZM192 510h2V566h-2ZM194 510h2V565h-2ZM196 510h2V561h-2ZM198 510h2V557h-2ZM200 510h2V553h-2ZM202 510h2V550h-2ZM204 510h2V548h-2ZM206 510h2V547h-2ZM208 510h2V545h-2ZM210 510h2V543h-2ZM212 510h2V541h-2ZM214 510h2V537h-2ZM216 510h2V533h-2ZM218 510h2V530h-2ZM220 510h2V527h-2ZM222 510h2V524h-2ZM224 510h2V522h-2ZM226 510h2V521h-2ZM228 510h2V520h-2ZM230 510h2V519h-2ZM232 510h2V518h-2ZM234 510h2V517h-2ZM236 510h2V516h-2ZM238 510h2V516h-2ZM240 510h2V515h-2ZM242 510h2V514h-2ZM244 510h2V514h-2ZM246 510h2V513h-2ZM248 510h2V512h-2ZM250 510h2V512h-2ZM252 510h2V512h-2ZM254 510h2V512h-2ZM256 510h2V512h-2ZM258 510h2V513h-2ZM260 510h2V514h-2ZM262 510h2V514h-2ZM264 510h2V515h-2ZM266 510h2V516h-2ZM268 510h2V517h-2ZM270 510h2V518h-2ZM272 510h2V519h-2ZM274 510h2V520h-2ZM276 510h2V521h-2ZM278 510h2V521h-2ZM280 510h2V522h-2ZM282 510h2V523h-2ZM284 510h2V525h-2ZM286 510h2V527h-2ZM288 510h2V528h-2ZM290 510h2V529h-2ZM292 510h2V529h-2ZM294 510h2V529h-2ZM296 510h2V528h-2ZM298 510h2V528h-2ZM300 510h2V528h-2ZM302 510h2V529h-2ZM304 510h2V530h-2ZM306 510h2V529h-2ZM308 510h2V527h-2ZM310 510h2V526h-2ZM312 510h2V524h-2ZM314 510h2V523h-2ZM316 510h2V521h-2ZM318 510h2V520h-2ZM320 510h2V519h-2ZM322 510h2V518h-2ZM324 510h2V517h-2ZM326 510h2V517h-2ZM328 510h2V518h-2ZM330 510h2V519h-2ZM332 510h2V521h-2ZM334 510h2V523h-2ZM336 510h2V523h-2ZM338 510h2V523h-2ZM340 510h2V523h-2ZM342 510h2V524h-2ZM344 510h2V525h-2ZM346 510h2V526h-2ZM348 510h2V527h-2ZM350 510h2V527h-2ZM352 510h2V525h-2ZM354 510h2V523h-2ZM356 510h2V521h-2ZM358 510h2V519h-2ZM360 510h2V518h-2ZM362 510h2V517h-2ZM364 510h2V515h-2ZM366 510h2V512h-2ZM368 509h2V510h-2ZM370 507h2V510h-2ZM372 507h2V510h-2ZM374 506h2V510h-2ZM376 506h2V510h-2ZM378 506h2V510h-2ZM380 506h2V510h-2ZM382 506h2V510h-2ZM384 507h2V510h-2ZM386 508h2V510h-2ZM388 509h2V510h-2ZM390 510h2V511h-2ZM392 510h2V513h-2ZM394 510h2V518h-2ZM396 510h2V521h-2ZM398 510h2V523h-2ZM400 510h2V523h-2ZM402 510h2V522h-2ZM404 510h2V520h-2ZM406 510h2V519h-2ZM408 510h2V518h-2ZM410 510h2V517h-2ZM412 510h2V517h-2ZM414 510h2V516h-2ZM416 510h2V517h-2ZM418 510h2V517h-2ZM420 510h2V517h-2ZM422 510h2V516h-2ZM424 510h2V516h-2ZM426 510h2V517h-2ZM428 510h2V517h-2ZM430 510h2V517h-2ZM432 510h2V518h-2ZM434 510h2V519h-2ZM436 510h2V521h-2ZM438 510h2V519h-2ZM440 510h2V519h-2ZM442 510h2V518h-2ZM444 510h2V518h-2ZM446 510h2V518h-2ZM448 510h2V519h-2ZM450 510h2V519h-2ZM452 510h2V520h-2ZM454 510h2V521h-2ZM456 510h2V521h-2ZM458 510h2V521h-2ZM460 510h2V521h-2ZM462 510h2V519h-2ZM464 510h2V518h-2ZM466 510h2V517h-2ZM468 510h2V517h-2ZM470 510h2V516h-2ZM472 510h2V515h-2ZM474 510h2V515h-2ZM476 510h2V516h-2ZM478 510h2V517h-2ZM480 510h2V517h-2ZM482 510h2V518h-2ZM484 510h2V518h-2ZM486 510h2V519h-2ZM488 510h2V519h-2ZM490 510h2V519h-2ZM492 510h2V518h-2ZM494 510h2V517h-2ZM496 510h2V515h-2ZM498 510h2V513h-2ZM500 510h2V512h-2ZM502 510h2V511h-2ZM504 509h2V510h-2ZM506 508h2V510h-2ZM508 508h2V510h-2ZM510 507h2V510h-2ZM512 505h2V510h-2ZM514 504h2V510h-2ZM516 503h2V510h-2ZM518 503h2V510h-2ZM520 503h2V510h-2ZM522 504h2V510h-2ZM524 504h2V510h-2ZM526 502h2V510h-2ZM528 500h2V510h-2ZM530 499h2V510h-2ZM532 497h2V510h-2ZM534 495h2V510h-2ZM536 493h2V510h-2ZM538 492h2V510h-2ZM540 491h2V510h-2ZM542 491h2V510h-2ZM544 491h2V510h-2ZM546 492h2V510h-2ZM548 493h2V510h-2ZM550 495h2V510h-2ZM552 495h2V510h-2ZM554 496h2V510h-2ZM556 496h2V510h-2ZM558 497h2V510h-2ZM560 497h2V510h-2ZM562 498h2V510h-2ZM564 499h2V510h-2ZM566 500h2V510h-2ZM568 501h2V510h-2ZM570 502h2V510h-2ZM572 503h2V510h-2ZM574 503h2V510h-2ZM576 504h2V510h-2ZM578 505h2V510h-2ZM580 506h2V510h-2ZM582 507h2V510h-2ZM584 508h2V510h-2ZM586 510h2V511h-2ZM588 510h2V512h-2ZM590 510h2V514h-2ZM592 510h2V515h-2ZM594 510h2V516h-2ZM596 510h2V517h-2ZM598 510h2V517h-2ZM600 510h2V518h-2ZM602 510h2V519h-2ZM604 510h2V521h-2ZM606 510h2V524h-2ZM608 510h2V528h-2ZM610 510h2V530h-2ZM612 510h2V532h-2ZM614 510h2V533h-2ZM616 510h2V534h-2ZM618 510h2V535h-2ZM620 510h2V536h-2ZM622 510h2V536h-2ZM624 510h2V537h-2ZM626 510h2V537h-2ZM628 510h2V537h-2ZM630 510h2V537h-2ZM632 510h2V537h-2ZM634 510h2V537h-2ZM636 510h2V537h-2ZM638 510h2V536h-2ZM640 510h2V535h-2ZM642 510h2V534h-2ZM644 510h2V532h-2ZM646 510h2V529h-2ZM648 510h2V528h-2ZM650 510h2V527h-2ZM652 510h2V526h-2ZM654 510h2V525h-2ZM656 510h2V524h-2ZM658 510h2V523h-2ZM660 510h2V522h-2ZM662 510h2V521h-2ZM664 510h2V520h-2ZM666 510h2V517h-2ZM668 510h2V513h-2ZM670 508h2V510h-2ZM672 506h2V510h-2ZM674 505h2V510h-2ZM676 505h2V510h-2ZM678 505h2V510h-2ZM680 504h2V510h-2ZM682 505h2V510h-2ZM684 506h2V510h-2ZM686 506h2V510h-2ZM688 508h2V510h-2ZM690 510h2V511h-2ZM692 510h2V514h-2ZM694 510h2V517h-2ZM696 510h2V519h-2ZM698 510h2V520h-2ZM700 510h2V521h-2ZM702 510h2V523h-2ZM704 510h2V524h-2ZM706 510h2V525h-2ZM708 510h2V526h-2ZM710 510h2V527h-2ZM712 510h2V527h-2ZM714 510h2V527h-2ZM716 510h2V527h-2ZM718 510h2V527h-2ZM720 510h2V527h-2ZM722 510h2V527h-2ZM724 510h2V527h-2ZM726 510h2V526h-2ZM728 510h2V526h-2ZM730 510h2V524h-2ZM732 510h2V522h-2ZM734 510h2V520h-2ZM736 510h2V517h-2ZM738 510h2V514h-2ZM740 510h2V511h-2ZM742 509h2V510h-2ZM744 508h2V510h-2ZM746 507h2V510h-2ZM748 507h2V510h-2ZM750 506h2V510h-2ZM752 505h2V510h-2ZM754 504h2V510h-2ZM756 504h2V510h-2ZM758 504h2V510h-2ZM760 503h2V510h-2ZM762 503h2V510h-2ZM764 502h2V510h-2ZM766 502h2V510h-2ZM768 502h2V510h-2ZM770 501h2V510h-2ZM772 501h2V510h-2ZM774 501h2V510h-2ZM776 501h2V510h-2ZM778 502h2V510h-2ZM780 502h2V510h-2ZM782 501h2V510h-2ZM784 501h2V510h-2ZM786 501h2V510h-2ZM788 500h2V510h-2ZM790 500h2V510h-2ZM792 499h2V510h-2ZM794 498h2V510h-2ZM796 498h2V510h-2ZM798 498h2V510h-2ZM800 497h2V510h-2ZM802 497h2V510h-2ZM804 497h2V510h-2ZM806 496h2V510h-2ZM808 496h2V510h-2ZM810 496h2V510h-2ZM812 496h2V510h-2ZM814 497h2V510h-2ZM816 497h2V510h-2ZM818 497h2V510h-2ZM820 497h2V510h-2ZM822 497h2V510h-2ZM824 497h2V510h-2ZM826 496h2V510h-2ZM828 496h2V510h-2ZM830 495h2V510h-2ZM832 495h2V510h-2ZM834 495h2V510h-2ZM836 494h2V510h-2ZM838 493h2V510h-2ZM840 492h2V510h-2ZM842 492h2V510h-2ZM844 492h2V510h-2ZM846 491h2V510h-2ZM848 491h2V510h-2ZM850 492h2V510h-2ZM852 493h2V510h-2ZM854 494h2V510h-2ZM856 495h2V510h-2ZM858 495h2V510h-2ZM860 496h2V510h-2ZM862 497h2V510h-2ZM864 498h2V510h-2ZM866 499h2V510h-2ZM868 500h2V510h-2ZM870 502h2V510h-2ZM872 503h2V510h-2ZM874 505h2V510h-2ZM876 507h2V510h-2ZM878 509h2V510h-2ZM880 510h2V512h-2ZM882 510h2V514h-2ZM884 510h2V516h-2ZM886 510h2V517h-2ZM888 510h2V518h-2ZM890 510h2V519h-2ZM892 510h2V519h-2ZM894 510h2V519h-2ZM896 510h2V518h-2ZM898 510h2V518h-2ZM900 510h2V517h-2ZM902 510h2V517h-2ZM904 510h2V517h-2ZM906 510h2V516h-2ZM908 510h2V517h-2ZM910 510h2V517h-2ZM912 510h2V517h-2ZM914 510h2V519h-2ZM916 510h2V522h-2ZM918 510h2V522h-2ZM920 510h2V521h-2ZM922 510h2V520h-2ZM924 510h2V520h-2ZM926 510h2V519h-2Z" fill="#c0c0c0" shape-rendering="crispEdges"/>
<path d="M3 512h1v1h-1ZM4 513h1v1h-1ZM5 513h1v1h-1ZM6 514h1v1h-1ZM7 514h1v1h-1ZM8 514h1v1h-1ZM9 514h1v1h-1ZM10 515h1v1h-1ZM11 515h1v1h-1ZM12 515h1v1h-1ZM13 515h1v1h-1ZM14 516h1v1h-1ZM15 516h1v1h-1ZM16 516h1v1h-1ZM17 516h1v1h-1ZM18 516h1v1h-1ZM19 516h1v1h-1ZM20 515h1v1h-1ZM21 515h1v1h-1ZM22 514h1v1h-1ZM23 514h1v1h-1ZM24 513h1v1h-1ZM25 513h1v1h-1ZM26 512h1v1h-1ZM27 512h1v1h-1ZM28 511h1v1h-1ZM29 510h1v1h-1ZM30 509h1v1h-1ZM31 509h1v1h-1ZM32 508h1v1h-1ZM33 508h1v1h-1ZM34 507h1v1h-1ZM35 507h1v1h-1ZM36 506h1v1h-1ZM37 506h1v1h-1ZM38 506h1v1h-1ZM39 506h1v1h-1ZM40 506h1v1h-1ZM41 506h1v1h-1ZM42 506h1v1h-1ZM43 506h1v1h-1ZM44 506h1v1h-1ZM45 506h1v1h-1ZM46 506h1v1h-1ZM47 506h1v1h-1ZM48 507h1v1h-1ZM49 507h1v1h-1ZM50 508h1v1h-1ZM51 508h1v1h-1ZM52 509h1v1h-1ZM53 509h1v1h-1ZM54 510h1v1h-1ZM55 510h1v1h-1ZM56 511h1v1h-1ZM57 512h1v1h-1ZM58 513h1v1h-1ZM59 514h1v1h-1ZM60 515h1v1h-1ZM61 516h1v1h-1ZM62 517h1v1h-1ZM63 518h1v1h-1ZM64 519h1v1h-1ZM65 520h1v1h-1ZM66 521h1v1h-1ZM67 521h1v1h-1ZM68 522h1v1h-1ZM69 523h1v1h-1ZM70 524h1v1h-1ZM71 524h1v1h-1ZM72 525h1v1h-1ZM73 525h1v1h-1ZM74 526h1v1h-1ZM75 526h1v1h-1ZM76 525h1v1h-1ZM77 525h1v1h-1ZM78 525h1v1h-1ZM79 525h1v1h-1ZM80 524h1v1h-1ZM81 523h1v1h-1ZM82 522h1v1h-1ZM83 521h1v1h-1ZM84 520h1v1h-1ZM85 520h1v1h-1ZM86 519h1v1h-1ZM87 518h1v1h-1ZM88 517h1v1h-1ZM89 517h1v1h-1ZM90 516h1v1h-1ZM91 515h1v1h-1ZM92 514h1v1h-1ZM93 514h1v1h-1ZM94 514h1v1h-1ZM95 514h1v1h-1ZM96 513h1v1h-1ZM97 513h1v1h-1ZM98 512h1v1h-1ZM99 512h1v1h-1ZM100 512h1v1h-1ZM101 512h1v1h-1ZM102 511h1v1h-1ZM103 511h1v1h-1ZM104 510h1v1h-1ZM105 510h1v1h-1ZM106 510h1v1h-1ZM107 510h1v1h-1ZM108 510h1v1h-1ZM109 510h1v1h-1ZM110 510h1v1h-1ZM111 510h1v1h-1ZM112 510h1v1h-1ZM113 510h1v1h-1ZM114 510h1v1h-1ZM115 510h1v1h-1ZM116 510h1v1h-1ZM117 510h1v1h-1ZM118 510h1v1h-1ZM119 510h1v1h-1ZM120 510h1v1h-1ZM121 510h1v1h-1ZM122 511h1v1h-1ZM123 511h1v1h-1ZM124 511h1v1h-1ZM125 511h1v1h-1ZM126 512h1v1h-1ZM127 512h1v1h-1ZM128 513h1v1h-1ZM129 513h1v1h-1ZM130 514h1v1h-1ZM131 515h1v1h-1ZM132 516h1v1h-1ZM133 516h1v1h-1ZM134 517h1v1h-1ZM135 518h1v1h-1ZM136 519h1v1h-1ZM137 519h1v1h-1ZM138 520h1v1h-1ZM139 520h1v1h-1ZM140 521h1v1h-1ZM141 522h1v1h-1ZM142 523h1v1h-1ZM143 523h1v1h-1ZM144 524h1v1h-1ZM145 524h1v1h-1ZM146 525h1v1h-1ZM147 525h1v1h-1ZM148 525h1v1h-1ZM149 525h1v1h-1ZM150 524h1v1h-1ZM151 524h1v1h-1ZM152 523h1v1h-1ZM153 523h1v1h-1ZM154 523h1v1h-1ZM155 523h1v1h-1ZM156 522h1v1h-1ZM157 522h1v1h-1ZM158 521h1v1h-1ZM159 521h1v1h-1ZM160 521h1v1h-1ZM161 521h1v1h-1ZM162 520h1v1h-1ZM163 520h1v1h-1ZM164 520h1v1h-1ZM165 520h1v1h-1ZM166 521h1v1h-1ZM167 521h1v1h-1ZM168 521h1v1h-1ZM169 521h1v1h-1ZM170 522h1v1h-1ZM171 523h1v1h-1ZM172 524h1v2h-1ZM173 526h1v2h-1ZM174 528h1v2h-1ZM175 530h1v1h-1ZM176 531h1v2h-1ZM177 533h1v2h-1ZM178 535h1v2h-1ZM179 537h1v2h-1ZM180 539h1v2h-1ZM181 541h1v2h-1ZM182 543h1v2h-1ZM183 545h1v3h-1ZM184 548h1v2h-1ZM185 550h1v2h-1ZM186 552h1v2h-1ZM187 554h1v1h-1ZM188 555h1v2h-1ZM189 557h1v1h-1ZM190 558h1v2h-1ZM191 560h1v1h-1ZM192 561h1v1h-1ZM193 561h1v1h-1ZM194 562h1v1h-1ZM195 562h1v1h-1ZM196 562h1v1h-1ZM197 562h1v1h-1ZM198 562h1v1h-1ZM199 562h1v1h-1ZM200 561h1v1h-1ZM201 561h1v1h-1ZM202 560h1v1h-1ZM203 560h1v1h-1ZM204 559h1v1h-1ZM205 558h1v1h-1ZM206 557h1v1h-1ZM207 556h1v1h-1ZM208 555h1v1h-1ZM209 554h1v1h-1ZM210 553h1v1h-1ZM211 552h1v1h-1ZM212 550h1v2h-1ZM213 549h1v1h-1ZM214 547h1v2h-1ZM215 546h1v1h-1ZM216 544h1v2h-1ZM217 543h1v1h-1ZM218 541h1v2h-1ZM219 540h1v1h-1ZM220 539h1v1h-1ZM221 538h1v1h-1ZM222 536h1v2h-1ZM223 535h1v1h-1ZM224 534h1v1h-1ZM225 533h1v1h-1ZM226 531h1v2h-1ZM227 530h1v1h-1ZM228 528h1v2h-1ZM229 527h1v1h-1ZM230 526h1v1h-1ZM231 525h1v1h-1ZM232 524h1v1h-1ZM233 523h1v1h-1ZM234 522h1v1h-1ZM235 521h1v1h-1ZM236 520h1v1h-1ZM237 519h1v1h-1ZM238 518h1v1h-1ZM239 518h1v1h-1ZM240 517h1v1h-1ZM241 517h1v1h-1ZM242 516h1v1h-1ZM243 516h1v1h-1ZM244 515h1v1h-1ZM245 515h1v1h-1ZM246 514h1v1h-1ZM247 514h1v1h-1ZM248 514h1v1h-1ZM249 514h1v1h-1ZM250 513h1v1h-1ZM251 513h1v1h-1ZM252 513h1v1h-1ZM253 513h1v1h-1ZM254 512h1v1h-1ZM255 512h1v1h-1ZM256 512h1v1h-1ZM257 512h1v1h-1ZM258 512h1v1h-1ZM259 512h1v1h-1ZM260 512h1v1h-1ZM261 512h1v1h-1ZM262 512h1v1h-1ZM263 512h1v1h-1ZM264 512h1v1h-1ZM265 512h1v1h-1ZM266 513h1v1h-1ZM267 513h1v1h-1ZM268 513h1v1h-1ZM269 513h1v1h-1ZM270 514h1v1h-1ZM271 514h1v1h-1ZM272 515h1v1h-1ZM273 515h1v1h-1ZM274 515h1v1h-1ZM275 515h1v1h-1ZM276 516h1v1h-1ZM277 516h1v1h-1ZM278 516h1v1h-1ZM279 516h1v1h-1ZM280 517h1v1h-1ZM281 517h1v1h-1ZM282 518h1v1h-1ZM283 518h1v1h-1ZM284 519h1v1h-1ZM285 519h1v1h-1ZM286 520h1v1h-1ZM287 520h1v1h-1ZM288 521h1v1h-1ZM289 521h1v1h-1ZM290 522h1v1h-1ZM291 522h1v1h-1ZM292 523h1v1h-1ZM293 523h1v1h-1ZM294 524h1v1h-1ZM295 524h1v1h-1ZM296 525h1v1h-1ZM297 525h1v1h-1ZM298 526h1v1h-1ZM299 526h1v1h-1ZM300 527h1v1h-1ZM301 527h1v1h-1ZM302 527h1v1h-1ZM303 527h1v1h-1ZM304 527h1v1h-1ZM305 527h1v1h-1ZM306 527h1v1h-1ZM307 527h1v1h-1ZM308 527h1v1h-1ZM309 527h1v1h-1ZM310 527h1v1h-1ZM311 527h1v1h-1ZM312 527h1v1h-1ZM313 527h1v1h-1ZM314 526h1v1h-1ZM315 526h1v1h-1ZM316 526h1v1h-1ZM317 526h1v1h-1ZM318 525h1v1h-1ZM319 525h1v1h-1ZM320 524h1v1h-1ZM321 524h1v1h-1ZM322 523h1v1h-1ZM323 522h1v1h-1ZM324 521h1v1h-1ZM325 521h1v1h-1ZM326 520h1v1h-1ZM327 520h1v1h-1ZM328 519h1v1h-1ZM329 519h1v1h-1ZM330 519h1v1h-1ZM331 519h1v1h-1ZM332 519h1v1h-1ZM333 519h1v1h-1ZM334 519h1v1h-1ZM335 519h1v1h-1ZM336 519h1v1h-1ZM337 519h1v1h-1ZM338 519h1v1h-1ZM339 519h1v1h-1ZM340 519h1v1h-1ZM341 519h1v1h-1ZM342 520h1v1h-1ZM343 520h1v1h-1ZM344 520h1v1h-1ZM345 520h1v1h-1ZM346 521h1v1h-1ZM347 521h1v1h-1ZM348 522h1v1h-1ZM349 522h1v1h-1ZM350 523h1v1h-1ZM351 523h1v1h-1ZM352 524h1v1h-1ZM353 524h1v1h-1ZM354 524h1v1h-1ZM355 524h1v1h-1ZM356 524h1v1h-1ZM357 524h1v1h-1ZM358 523h1v1h-1ZM359 523h1v1h-1ZM360 522h1v1h-1ZM361 522h1v1h-1ZM362 521h1v1h-1ZM363 521h1v1h-1ZM364 520h1v1h-1ZM365 520h1v1h-1ZM366 519h1v1h-1ZM367 518h1v1h-1ZM368 517h1v1h-1ZM369 516h1v1h-1ZM370 515h1v1h-1ZM371 514h1v1h-1ZM372 513h1v1h-1ZM373 513h1v1h-1ZM374 512h1v1h-1ZM375 511h1v1h-1ZM376 510h1v1h-1ZM377 510h1v1h-1ZM378 509h1v1h-1ZM379 509h1v1h-1ZM380 508h1v1h-1ZM381 508h1v1h-1ZM382 508h1v1h-1ZM383 508h1v1h-1ZM384 507h1v1h-1ZM385 507h1v1h-1ZM386 507h1v1h-1ZM387 507h1v1h-1ZM388 507h1v1h-1ZM389 507h1v1h-1ZM390 507h1v1h-1ZM391 507h1v1h-1ZM392 508h1v1h-1ZM393 508h1v1h-1ZM394 509h1v1h-1ZM395 509h1v1h-1ZM396 510h1v1h-1ZM397 511h1v1h-1ZM398 512h1v1h-1ZM399 512h1v1h-1ZM400 513h1v1h-1ZM401 514h1v1h-1ZM402 515h1v1h-1ZM403 515h1v1h-1ZM404 516h1v1h-1ZM405 517h1v1h-1ZM406 518h1v1h-1ZM407 518h1v1h-1ZM408 519h1v1h-1ZM409 519h1v1h-1ZM410 519h1v1h-1ZM411 519h1v1h-1ZM412 519h1v1h-1ZM413 519h1v1h-1ZM414 518h1v1h-1ZM415 518h1v1h-1ZM416 517h1v1h-1ZM417 517h1v1h-1ZM418 517h1v1h-1ZM419 517h1v1h-1ZM420 516h1v1h-1ZM421 516h1v1h-1ZM422 516h1v1h-1ZM423 516h1v1h-1ZM424 516h1v1h-1ZM425 516h1v1h-1ZM426 516h1v1h-1ZM427 516h1v1h-1ZM428 516h1v1h-1ZM429 516h1v1h-1ZM430 516h1v1h-1ZM431 516h1v1h-1ZM432 516h1v1h-1ZM433 516h1v1h-1ZM434 517h1v1h-1ZM435 517h1v1h-1ZM436 517h1v1h-1ZM437 517h1v1h-1ZM438 517h1v1h-1ZM439 517h1v1h-1ZM440 517h1v1h-1ZM441 517h1v1h-1ZM442 518h1v1h-1ZM443 518h1v1h-1ZM444 518h1v1h-1ZM445 518h1v1h-1ZM446 518h1v1h-1ZM447 518h1v1h-1ZM448 518h1v1h-1ZM449 518h1v1h-1ZM450 518h1v1h-1ZM451 518h1v1h-1ZM452 519h1v1h-1ZM453 519h1v1h-1ZM454 519h1v1h-1ZM455 519h1v1h-1ZM456 519h1v1h-1ZM457 519h1v1h-1ZM458 519h1v1h-1ZM459 519h1v1h-1ZM460 519h1v1h-1ZM461 519h1v1h-1ZM462 519h1v1h-1ZM463 519h1v1h-1ZM464 519h1v1h-1ZM465 519h1v1h-1ZM466 519h1v1h-1ZM467 519h1v1h-1ZM468 519h1v1h-1ZM469 519h1v1h-1ZM470 518h1v1h-1ZM471 518h1v1h-1ZM472 517h1v1h-1ZM473 517h1v1h-1ZM474 517h1v1h-1ZM475 517h1v1h-1ZM476 516h1v1h-1ZM477 516h1v1h-1ZM478 516h1v1h-1ZM479 516h1v1h-1ZM480 516h1v1h-1ZM481 516h1v1h-1ZM482 516h1v1h-1ZM483 516h1v1h-1ZM484 516h1v1h-1ZM485 516h1v1h-1ZM486 516h1v1h-1ZM487 516h1v1h-1ZM488 516h1v1h-1ZM489 516h1v1h-1ZM490 516h1v1h-1ZM491 516h1v1h-1ZM492 517h1v1h-1ZM493 517h1v1h-1ZM494 517h1v1h-1ZM495 517h1v1h-1ZM496 517h1v1h-1ZM497 517h1v1h-1ZM498 517h1v1h-1ZM499 517h1v1h-1ZM500 516h1v1h-1ZM501 516h1v1h-1ZM502 515h1v1h-1ZM503 515h1v1h-1ZM504 514h1v1h-1ZM505 514h1v1h-1ZM506 513h1v1h-1ZM507 513h1v1h-1ZM508 512h1v1h-1ZM509 512h1v1h-1ZM510 511h1v1h-1ZM511 511h1v1h-1ZM512 510h1v1h-1ZM513 510h1v1h-1ZM514 509h1v1h-1ZM515 509h1v1h-1ZM516 508h1v1h-1ZM517 508h1v1h-1ZM518 507h1v1h-1ZM519 507h1v1h-1ZM520 506h1v1h-1ZM521 506h1v1h-1ZM522 506h1v1h-1ZM523 506h1v1h-1ZM524 505h1v1h-1ZM525 505h1v1h-1ZM526 505h1v1h-1ZM527 505h1v1h-1ZM528 504h1v1h-1ZM529 504h1v1h-1ZM530 504h1v1h-1ZM531 504h1v1h-1ZM532 503h1v1h-1ZM533 503h1v1h-1ZM534 503h1v1h-1ZM535 503h1v1h-1ZM536 502h1v1h-1ZM537 501h1v1h-1ZM538 500h1v1h-1ZM539 499h1v1h-1ZM540 498h1v1h-1ZM541 498h1v1h-1ZM542 497h1v1h-1ZM543 496h1v1h-1ZM544 495h1v1h-1ZM545 495h1v1h-1ZM546 494h1v1h-1ZM547 493h1v1h-1ZM548 492h1v1h-1ZM549 492h1v1h-1ZM550 492h1v1h-1ZM551 492h1v1h-1ZM552 492h1v1h-1ZM553 492h1v1h-1ZM554 493h1v1h-1ZM555 493h1v1h-1ZM556 493h1v1h-1ZM557 493h1v1h-1ZM558 494h1v1h-1ZM559 494h1v1h-1ZM560 495h1v1h-1ZM561 495h1v1h-1ZM562 495h1v1h-1ZM563 495h1v1h-1ZM564 496h1v1h-1ZM565 496h1v1h-1ZM566 497h1v1h-1ZM567 497h1v1h-1ZM568 498h1v1h-1ZM569 498h1v1h-1ZM570 498h1v1h-1ZM571 498h1v1h-1ZM572 499h1v1h-1ZM573 499h1v1h-1ZM574 500h1v1h-1ZM575 500h1v1h-1ZM576 501h1v1h-1ZM577 501h1v1h-1ZM578 502h1v1h-1ZM579 502h1v1h-1ZM580 503h1v1h-1ZM581 503h1v1h-1ZM582 503h1v1h-1ZM583 503h1v1h-1ZM584 504h1v1h-1ZM585 504h1v1h-1ZM586 505h1v1h-1ZM587 505h1v1h-1ZM588 506h1v1h-1ZM589 506h1v1h-1ZM590 507h1v1h-1ZM591 507h1v1h-1ZM592 508h1v1h-1ZM593 508h1v1h-1ZM594 509h1v1h-1ZM595 509h1v1h-1ZM596 510h1v1h-1ZM597 510h1v1h-1ZM598 511h1v1h-1ZM599 512h1v1h-1ZM600 513h1v1h-1ZM601 513h1v1h-1ZM602 514h1v1h-1ZM603 514h1v1h-1ZM604 515h1v1h-1ZM605 515h1v1h-1ZM606 516h1v1h-1ZM607 516h1v1h-1ZM608 517h1v1h-1ZM609 518h1v1h-1ZM610 519h1v1h-1ZM611 520h1v1h-1ZM612 521h1v1h-1ZM613 521h1v1h-1ZM614 522h1v1h-1ZM615 523h1v1h-1ZM616 524h1v1h-1ZM617 525h1v1h-1ZM618 526h1v1h-1ZM619 527h1v1h-1ZM620 528h1v1h-1ZM621 528h1v1h-1ZM622 529h1v1h-1ZM623 530h1v1h-1ZM624 531h1v1h-1ZM625 531h1v1h-1ZM626 532h1v1h-1ZM627 533h1v1h-1ZM628 534h1v1h-1ZM629 534h1v1h-1ZM630 534h1v1h-1ZM631 534h1v1h-1ZM632 535h1v1h-1ZM633 535h1v1h-1ZM634 535h1v1h-1ZM635 535h1v1h-1ZM636 535h1v1h-1ZM637 535h1v1h-1ZM638 535h1v1h-1ZM639 535h1v1h-1ZM640 535h1v1h-1ZM641 535h1v1h-1ZM642 535h1v1h-1ZM643 535h1v1h-1ZM644 534h1v1h-1ZM645 534h1v1h-1ZM646 534h1v1h-1ZM647 534h1v1h-1ZM648 533h1v1h-1ZM649 533h1v1h-1ZM650 532h1v1h-1ZM651 531h1v1h-1ZM652 530h1v1h-1ZM653 530h1v1h-1ZM654 529h1v1h-1ZM655 529h1v1h-1ZM656 528h1v1h-1ZM657 527h1v1h-1ZM658 526h1v1h-1ZM659 526h1v1h-1ZM660 525h1v1h-1ZM661 525h1v1h-1ZM662 524h1v1h-1ZM663 524h1v1h-1ZM664 523h1v1h-1ZM665 523h1v1h-1ZM666 522h1v1h-1ZM667 521h1v1h-1ZM668 520h1v1h-1ZM669 520h1v1h-1ZM670 519h1v1h-1ZM671 518h1v1h-1ZM672 517h1v1h-1ZM673 517h1v1h-1ZM674 516h1v1h-1ZM675 515h1v1h-1ZM676 514h1v1h-1ZM677 513h1v1h-1ZM678 512h1v1h-1ZM679 511h1v1h-1ZM680 510h1v1h-1ZM681 509h1v1h-1ZM682 508h1v1h-1ZM683 508h1v1h-1ZM684 507h1v1h-1ZM685 506h1v1h-1ZM686 506h1v1h-1ZM687 506h1v1h-1ZM688 506h1v1h-1ZM689 506h1v1h-1ZM690 505h1v1h-1ZM691 505h1v1h-1ZM692 506h1v1h-1ZM693 506h1v1h-1ZM694 507h1v1h-1ZM695 507h1v1h-1ZM696 508h1v1h-1ZM697 508h1v1h-1ZM698 509h1v1h-1ZM699 510h1v1h-1ZM700 511h1v1h-1ZM701 512h1v1h-1ZM702 513h1v1h-1ZM703 514h1v1h-1ZM704 515h1v1h-1ZM705 515h1v1h-1ZM706 516h1v1h-1ZM707 517h1v1h-1ZM708 518h1v1h-1ZM709 519h1v1h-1ZM710 520h1v1h-1ZM711 521h1v1h-1ZM712 522h1v1h-1ZM713 522h1v1h-1ZM714 523h1v1h-1ZM715 523h1v1h-1ZM716 524h1v1h-1ZM717 524h1v1h-1ZM718 524h1v1h-1ZM719 524h1v1h-1ZM720 525h1v1h-1ZM721 525h1v1h-1ZM722 525h1v1h-1ZM723 525h1v1h-1ZM724 526h1v1h-1ZM725 526h1v1h-1ZM726 526h1v1h-1ZM727 526h1v1h-1ZM728 526h1v1h-1ZM729 526h1v1h-1ZM730 525h1v1h-1ZM731 525h1v1h-1ZM732 525h1v1h-1ZM733 525h1v1h-1ZM734 524h1v1h-1ZM735 524h1v1h-1ZM736 523h1v1h-1ZM737 523h1v1h-1ZM738 522h1v1h-1ZM739 522h1v1h-1ZM740 521h1v1h-1ZM741 520h1v1h-1ZM742 519h1v1h-1ZM743 519h1v1h-1ZM744 518h1v1h-1ZM745 517h1v1h-1ZM746 516h1v1h-1ZM747 515h1v1h-1ZM748 514h1v1h-1ZM749 514h1v1h-1ZM750 513h1v1h-1ZM751 512h1v1h-1ZM752 511h1v1h-1ZM753 510h1v1h-1ZM754 509h1v1h-1ZM755 508h1v1h-1ZM756 507h1v1h-1ZM757 507h1v1h-1ZM758 506h1v1h-1ZM759 506h1v1h-1ZM760 505h1v1h-1ZM761 505h1v1h-1ZM762 505h1v1h-1ZM763 505h1v1h-1ZM764 504h1v1h-1ZM765 504h1v1h-1ZM766 504h1v1h-1ZM767 504h1v1h-1ZM768 503h1v1h-1ZM769 503h1v1h-1ZM770 503h1v1h-1ZM771 503h1v1h-1ZM772 503h1v1h-1ZM773 503h1v1h-1ZM774 502h1v1h-1ZM775 502h1v1h-1ZM776 502h1v1h-1ZM777 502h1v1h-1ZM778 502h1v1h-1ZM779 502h1v1h-1ZM780 502h1v1h-1ZM781 502h1v1h-1ZM782 502h1v1h-1ZM783 502h1v1h-1ZM784 502h1v1h-1ZM785 502h1v1h-1ZM786 502h1v1h-1ZM787 502h1v1h-1ZM788 502h1v1h-1ZM789 502h1v1h-1ZM790 502h1v1h-1ZM791 502h1v1h-1ZM792 502h1v1h-1ZM793 502h1v1h-1ZM794 502h1v1h-1ZM795 502h1v1h-1ZM796 501h1v1h-1ZM797 501h1v1h-1ZM798 500h1v1h-1ZM799 500h1v1h-1ZM800 500h1v1h-1ZM801 500h1v1h-1ZM802 499h1v1h-1ZM803 499h1v1h-1ZM804 499h1v1h-1ZM805 499h1v1h-1ZM806 498h1v1h-1ZM807 498h1v1h-1ZM808 498h1v1h-1ZM809 498h1v1h-1ZM810 498h1v1h-1ZM811 498h1v1h-1ZM812 498h1v1h-1ZM813 498h1v1h-1ZM814 498h1v1h-1ZM815 498h1v1h-1ZM816 498h1v1h-1ZM817 498h1v1h-1ZM818 498h1v1h-1ZM819 498h1v1h-1ZM820 497h1v1h-1ZM821 497h1v1h-1ZM822 497h1v1h-1ZM823 497h1v1h-1ZM824 497h1v1h-1ZM825 497h1v1h-1ZM826 497h1v1h-1ZM827 497h1v1h-1ZM828 497h1v1h-1ZM829 497h1v1h-1ZM830 497h1v1h-1ZM831 497h1v1h-1ZM832 497h1v1h-1ZM833 497h1v1h-1ZM834 496h1v1h-1ZM835 496h1v1h-1ZM836 496h1v1h-1ZM837 496h1v1h-1ZM838 495h1v1h-1ZM839 495h1v1h-1ZM840 494h1v1h-1ZM841 494h1v1h-1ZM842 494h1v1h-1ZM843 494h1v1h-1ZM844 493h1v1h-1ZM845 493h1v1h-1ZM846 493h1v1h-1ZM847 493h1v1h-1ZM848 492h1v1h-1ZM849 492h1v1h-1ZM850 492h1v1h-1ZM851 492h1v1h-1ZM852 492h1v1h-1ZM853 492h1v1h-1ZM854 492h1v1h-1ZM855 492h1v1h-1ZM856 492h1v1h-1ZM857 492h1v1h-1ZM858 493h1v1h-1ZM859 493h1v1h-1ZM860 493h1v1h-1ZM861 493h1v1h-1ZM862 494h1v1h-1ZM863 494h1v1h-1ZM864 495h1v1h-1ZM865 495h1v1h-1ZM866 496h1v1h-1ZM867 496h1v1h-1ZM868 497h1v1h-1ZM869 497h1v1h-1ZM870 498h1v1h-1ZM871 498h1v1h-1ZM872 499h1v1h-1ZM873 499h1v1h-1ZM874 500h1v1h-1ZM875 500h1v1h-1ZM876 501h1v1h-1ZM877 501h1v1h-1ZM878 502h1v1h-1ZM879 502h1v1h-1ZM880 503h1v1h-1ZM881 504h1v1h-1ZM882 505h1v1h-1ZM883 505h1v1h-1ZM884 506h1v1h-1ZM885 507h1v1h-1ZM886 508h1v1h-1ZM887 508h1v1h-1ZM888 509h1v1h-1ZM889 510h1v1h-1ZM890 511h1v1h-1ZM891 512h1v1h-1ZM892 513h1v1h-1ZM893 513h1v1h-1ZM894 514h1v1h-1ZM895 515h1v1h-1ZM896 515h1v1h-1ZM897 515h1v1h-1ZM898 516h1v1h-1ZM899 516h1v1h-1ZM900 517h1v1h-1ZM901 517h1v1h-1ZM902 517h1v1h-1ZM903 517h1v1h-1ZM904 517h1v1h-1ZM905 517h1v1h-1ZM906 517h1v1h-1ZM907 517h1v1h-1ZM908 517h1v1h-1ZM909 517h1v1h-1ZM910 517h1v1h-1ZM911 517h1v1h-1ZM912 516h1v1h-1ZM913 516h1v1h-1ZM914 516h1v1h-1ZM915 516h1v1h-1ZM916 516h1v1h-1ZM917 516h1v1h-1ZM918 517h1v1h-1ZM919 517h1v1h-1ZM920 517h1v1h-1ZM921 517h1v1h-1ZM922 518h1v1h-1ZM923 518h1v1h-1ZM924 518h1v1h-1ZM925 518h1v1h-1ZM926 519h1v1h-1ZM927 519h1v1h-1Z" fill="#ff0000" shape-rendering="crispEdges"/>
<text x="7.5" y="498" font-size="9.8" fill="#000" textLength="153" lengthAdjust="spacingAndGlyphs" stroke="#000" stroke-width="0.2">MACD(12,26,9) -0.000856 -0.000962</text>
<rect x="1165" y="487" width="3" height="1" fill="#000"/>
<text x="1169" y="496" font-size="9.8" fill="#000" textLength="37" lengthAdjust="spacingAndGlyphs" stroke="#000" stroke-width="0.2">0.002947</text>
<rect x="1165" y="510" width="3" height="1" fill="#000"/>
<text x="1169" y="514" font-size="9.8" fill="#000" textLength="18" lengthAdjust="spacingAndGlyphs" stroke="#000" stroke-width="0.2">0.00</text>
<rect x="1165" y="568" width="3" height="1" fill="#000"/>
<text x="1169" y="566" font-size="9.8" fill="#000" textLength="35.5" lengthAdjust="spacingAndGlyphs" stroke="#000" stroke-width="0.2">-0.00715</text>
<path d="M4 598h3v1h-3ZM10 598h3v1h-3ZM16 598h3v1h-3ZM22 598h3v1h-3ZM28 598h3v1h-3ZM34 598h3v1h-3ZM40 598h3v1h-3ZM46 598h3v1h-3ZM52 598h3v1h-3ZM58 598h3v1h-3ZM64 598h3v1h-3ZM70 598h3v1h-3ZM76 598h3v1h-3ZM82 598h3v1h-3ZM88 598h3v1h-3ZM94 598h3v1h-3ZM100 598h3v1h-3ZM106 598h3v1h-3ZM112 598h3v1h-3ZM118 598h3v1h-3ZM124 598h3v1h-3ZM130 598h3v1h-3ZM136 598h3v1h-3ZM142 598h3v1h-3ZM148 598h3v1h-3ZM154 598h3v1h-3ZM160 598h3v1h-3ZM166 598h3v1h-3ZM172 598h3v1h-3ZM178 598h3v1h-3ZM184 598h3v1h-3ZM190 598h3v1h-3ZM196 598h3v1h-3ZM202 598h3v1h-3ZM208 598h3v1h-3ZM214 598h3v1h-3ZM220 598h3v1h-3ZM226 598h3v1h-3ZM232 598h3v1h-3ZM238 598h3v1h-3ZM244 598h3v1h-3ZM250 598h3v1h-3ZM256 598h3v1h-3ZM262 598h3v1h-3ZM268 598h3v1h-3ZM274 598h3v1h-3ZM280 598h3v1h-3ZM286 598h3v1h-3ZM292 598h3v1h-3ZM298 598h3v1h-3ZM304 598h3v1h-3ZM310 598h3v1h-3ZM316 598h3v1h-3ZM322 598h3v1h-3ZM328 598h3v1h-3ZM334 598h3v1h-3ZM340 598h3v1h-3ZM346 598h3v1h-3ZM352 598h3v1h-3ZM358 598h3v1h-3ZM364 598h3v1h-3ZM370 598h3v1h-3ZM376 598h3v1h-3ZM382 598h3v1h-3ZM388 598h3v1h-3ZM394 598h3v1h-3ZM400 598h3v1h-3ZM406 598h3v1h-3ZM412 598h3v1h-3ZM418 598h3v1h-3ZM424 598h3v1h-3ZM430 598h3v1h-3ZM436 598h3v1h-3ZM442 598h3v1h-3ZM448 598h3v1h-3ZM454 598h3v1h-3ZM460 598h3v1h-3ZM466 598h3v1h-3ZM472 598h3v1h-3ZM478 598h3v1h-3ZM484 598h3v1h-3ZM490 598h3v1h-3ZM496 598h3v1h-3ZM502 598h3v1h-3ZM508 598h3v1h-3ZM514 598h3v1h-3ZM520 598h3v1h-3ZM526 598h3v1h-3ZM532 598h3v1h-3ZM538 598h3v1h-3ZM544 598h3v1h-3ZM550 598h3v1h-3ZM556 598h3v1h-3ZM562 598h3v1h-3ZM568 598h3v1h-3ZM574 598h3v1h-3ZM580 598h3v1h-3ZM586 598h3v1h-3ZM592 598h3v1h-3ZM598 598h3v1h-3ZM604 598h3v1h-3ZM610 598h3v1h-3ZM616 598h3v1h-3ZM622 598h3v1h-3ZM628 598h3v1h-3ZM634 598h3v1h-3ZM640 598h3v1h-3ZM646 598h3v1h-3ZM652 598h3v1h-3ZM658 598h3v1h-3ZM664 598h3v1h-3ZM670 598h3v1h-3ZM676 598h3v1h-3ZM682 598h3v1h-3ZM688 598h3v1h-3ZM694 598h3v1h-3ZM700 598h3v1h-3ZM706 598h3v1h-3ZM712 598h3v1h-3ZM718 598h3v1h-3ZM724 598h3v1h-3ZM730 598h3v1h-3ZM736 598h3v1h-3ZM742 598h3v1h-3ZM748 598h3v1h-3ZM754 598h3v1h-3ZM760 598h3v1h-3ZM766 598h3v1h-3ZM772 598h3v1h-3ZM778 598h3v1h-3ZM784 598h3v1h-3ZM790 598h3v1h-3ZM796 598h3v1h-3ZM802 598h3v1h-3ZM808 598h3v1h-3ZM814 598h3v1h-3ZM820 598h3v1h-3ZM826 598h3v1h-3ZM832 598h3v1h-3ZM838 598h3v1h-3ZM844 598h3v1h-3ZM850 598h3v1h-3ZM856 598h3v1h-3ZM862 598h3v1h-3ZM868 598h3v1h-3ZM874 598h3v1h-3ZM880 598h3v1h-3ZM886 598h3v1h-3ZM892 598h3v1h-3ZM898 598h3v1h-3ZM904 598h3v1h-3ZM910 598h3v1h-3ZM916 598h3v1h-3ZM922 598h3v1h-3ZM928 598h3v1h-3ZM934 598h3v1h-3ZM940 598h3v1h-3ZM946 598h3v1h-3ZM952 598h3v1h-3ZM958 598h3v1h-3ZM964 598h3v1h-3ZM970 598h3v1h-3ZM976 598h3v1h-3ZM982 598h3v1h-3ZM988 598h3v1h-3ZM994 598h3v1h-3ZM1000 598h3v1h-3ZM1006 598h3v1h-3ZM1012 598h3v1h-3ZM1018 598h3v1h-3ZM1024 598h3v1h-3ZM1030 598h3v1h-3ZM1036 598h3v1h-3ZM1042 598h3v1h-3ZM1048 598h3v1h-3ZM1054 598h3v1h-3ZM1060 598h3v1h-3ZM1066 598h3v1h-3ZM1072 598h3v1h-3ZM1078 598h3v1h-3ZM1084 598h3v1h-3ZM1090 598h3v1h-3ZM1096 598h3v1h-3ZM1102 598h3v1h-3ZM1108 598h3v1h-3ZM1114 598h3v1h-3ZM1120 598h3v1h-3ZM1126 598h3v1h-3ZM1132 598h3v1h-3ZM1138 598h3v1h-3ZM1144 598h3v1h-3ZM1150 598h3v1h-3ZM1156 598h3v1h-3ZM1162 598h3v1h-3Z" fill="#b4b4b4" shape-rendering="crispEdges"/>
<path d="M4 632h3v1h-3ZM10 632h3v1h-3ZM16 632h3v1h-3ZM22 632h3v1h-3ZM28 632h3v1h-3ZM34 632h3v1h-3ZM40 632h3v1h-3ZM46 632h3v1h-3ZM52 632h3v1h-3ZM58 632h3v1h-3ZM64 632h3v1h-3ZM70 632h3v1h-3ZM76 632h3v1h-3ZM82 632h3v1h-3ZM88 632h3v1h-3ZM94 632h3v1h-3ZM100 632h3v1h-3ZM106 632h3v1h-3ZM112 632h3v1h-3ZM118 632h3v1h-3ZM124 632h3v1h-3ZM130 632h3v1h-3ZM136 632h3v1h-3ZM142 632h3v1h-3ZM148 632h3v1h-3ZM154 632h3v1h-3ZM160 632h3v1h-3ZM166 632h3v1h-3ZM172 632h3v1h-3ZM178 632h3v1h-3ZM184 632h3v1h-3ZM190 632h3v1h-3ZM196 632h3v1h-3ZM202 632h3v1h-3ZM208 632h3v1h-3ZM214 632h3v1h-3ZM220 632h3v1h-3ZM226 632h3v1h-3ZM232 632h3v1h-3ZM238 632h3v1h-3ZM244 632h3v1h-3ZM250 632h3v1h-3ZM256 632h3v1h-3ZM262 632h3v1h-3ZM268 632h3v1h-3ZM274 632h3v1h-3ZM280 632h3v1h-3ZM286 632h3v1h-3ZM292 632h3v1h-3ZM298 632h3v1h-3ZM304 632h3v1h-3ZM310 632h3v1h-3ZM316 632h3v1h-3ZM322 632h3v1h-3ZM328 632h3v1h-3ZM334 632h3v1h-3ZM340 632h3v1h-3ZM346 632h3v1h-3ZM352 632h3v1h-3ZM358 632h3v1h-3ZM364 632h3v1h-3ZM370 632h3v1h-3ZM376 632h3v1h-3ZM382 632h3v1h-3ZM388 632h3v1h-3ZM394 632h3v1h-3ZM400 632h3v1h-3ZM406 632h3v1h-3ZM412 632h3v1h-3ZM418 632h3v1h-3ZM424 632h3v1h-3ZM430 632h3v1h-3ZM436 632h3v1h-3ZM442 632h3v1h-3ZM448 632h3v1h-3ZM454 632h3v1h-3ZM460 632h3v1h-3ZM466 632h3v1h-3ZM472 632h3v1h-3ZM478 632h3v1h-3ZM484 632h3v1h-3ZM490 632h3v1h-3ZM496 632h3v1h-3ZM502 632h3v1h-3ZM508 632h3v1h-3ZM514 632h3v1h-3ZM520 632h3v1h-3ZM526 632h3v1h-3ZM532 632h3v1h-3ZM538 632h3v1h-3ZM544 632h3v1h-3ZM550 632h3v1h-3ZM556 632h3v1h-3ZM562 632h3v1h-3ZM568 632h3v1h-3ZM574 632h3v1h-3ZM580 632h3v1h-3ZM586 632h3v1h-3ZM592 632h3v1h-3ZM598 632h3v1h-3ZM604 632h3v1h-3ZM610 632h3v1h-3ZM616 632h3v1h-3ZM622 632h3v1h-3ZM628 632h3v1h-3ZM634 632h3v1h-3ZM640 632h3v1h-3ZM646 632h3v1h-3ZM652 632h3v1h-3ZM658 632h3v1h-3ZM664 632h3v1h-3ZM670 632h3v1h-3ZM676 632h3v1h-3ZM682 632h3v1h-3ZM688 632h3v1h-3ZM694 632h3v1h-3ZM700 632h3v1h-3ZM706 632h3v1h-3ZM712 632h3v1h-3ZM718 632h3v1h-3ZM724 632h3v1h-3ZM730 632h3v1h-3ZM736 632h3v1h-3ZM742 632h3v1h-3ZM748 632h3v1h-3ZM754 632h3v1h-3ZM760 632h3v1h-3ZM766 632h3v1h-3ZM772 632h3v1h-3ZM778 632h3v1h-3ZM784 632h3v1h-3ZM790 632h3v1h-3ZM796 632h3v1h-3ZM802 632h3v1h-3ZM808 632h3v1h-3ZM814 632h3v1h-3ZM820 632h3v1h-3ZM826 632h3v1h-3ZM832 632h3v1h-3ZM838 632h3v1h-3ZM844 632h3v1h-3ZM850 632h3v1h-3ZM856 632h3v1h-3ZM862 632h3v1h-3ZM868 632h3v1h-3ZM874 632h3v1h-3ZM880 632h3v1h-3ZM886 632h3v1h-3ZM892 632h3v1h-3ZM898 632h3v1h-3ZM904 632h3v1h-3ZM910 632h3v1h-3ZM916 632h3v1h-3ZM922 632h3v1h-3ZM928 632h3v1h-3ZM934 632h3v1h-3ZM940 632h3v1h-3ZM946 632h3v1h-3ZM952 632h3v1h-3ZM958 632h3v1h-3ZM964 632h3v1h-3ZM970 632h3v1h-3ZM976 632h3v1h-3ZM982 632h3v1h-3ZM988 632h3v1h-3ZM994 632h3v1h-3ZM1000 632h3v1h-3ZM1006 632h3v1h-3ZM1012 632h3v1h-3ZM1018 632h3v1h-3ZM1024 632h3v1h-3ZM1030 632h3v1h-3ZM1036 632h3v1h-3ZM1042 632h3v1h-3ZM1048 632h3v1h-3ZM1054 632h3v1h-3ZM1060 632h3v1h-3ZM1066 632h3v1h-3ZM1072 632h3v1h-3ZM1078 632h3v1h-3ZM1084 632h3v1h-3ZM1090 632h3v1h-3ZM1096 632h3v1h-3ZM1102 632h3v1h-3ZM1108 632h3v1h-3ZM1114 632h3v1h-3ZM1120 632h3v1h-3ZM1126 632h3v1h-3ZM1132 632h3v1h-3ZM1138 632h3v1h-3ZM1144 632h3v1h-3ZM1150 632h3v1h-3ZM1156 632h3v1h-3ZM1162 632h3v1h-3Z" fill="#b4b4b4" shape-rendering="crispEdges"/>
<path d="M3 624h1v1h-1ZM4 622h1v2h-1ZM5 621h1v1h-1ZM6 622h1v2h-1ZM7 624h1v2h-1ZM8 621h1v3h-1ZM9 619h1v2h-1ZM10 618h1v1h-1ZM11 617h1v1h-1ZM12 616h1v1h-1ZM13 615h1v1h-1ZM14 616h1v2h-1ZM15 618h1v1h-1ZM16 618h1v1h-1ZM17 617h1v2h-1ZM18 613h1v4h-1ZM19 610h1v3h-1ZM20 609h1v1h-1ZM21 608h1v1h-1ZM22 609h1v1h-1ZM23 609h1v1h-1ZM24 608h1v1h-1ZM25 608h1v1h-1ZM26 609h1v1h-1ZM27 610h1v1h-1ZM28 609h1v1h-1ZM29 609h1v1h-1ZM30 608h1v1h-1ZM31 607h1v1h-1ZM32 606h1v1h-1ZM33 606h1v2h-1ZM34 608h1v2h-1ZM35 610h1v2h-1ZM36 612h1v1h-1ZM37 613h1v1h-1ZM38 614h1v1h-1ZM39 615h1v2h-1ZM40 617h1v4h-1ZM41 621h1v3h-1ZM42 621h1v2h-1ZM43 619h1v2h-1ZM44 617h1v2h-1ZM45 616h1v1h-1ZM46 615h1v1h-1ZM47 615h1v1h-1ZM48 616h1v1h-1ZM49 617h1v1h-1ZM50 618h1v1h-1ZM51 619h1v1h-1ZM52 620h1v1h-1ZM53 621h1v2h-1ZM54 623h1v3h-1ZM55 626h1v3h-1ZM56 629h1v3h-1ZM57 632h1v2h-1ZM58 632h1v1h-1ZM59 632h1v1h-1ZM60 632h1v1h-1ZM61 632h1v1h-1ZM62 633h1v1h-1ZM63 634h1v1h-1ZM64 632h1v2h-1ZM65 628h1v4h-1ZM66 623h1v5h-1ZM67 620h1v3h-1ZM68 618h1v2h-1ZM69 616h1v2h-1ZM70 617h1v1h-1ZM71 618h1v1h-1ZM72 618h1v1h-1ZM73 618h1v1h-1ZM74 619h1v1h-1ZM75 620h1v1h-1ZM76 619h1v1h-1ZM77 618h1v2h-1ZM78 616h1v2h-1ZM79 614h1v2h-1ZM80 612h1v2h-1ZM81 611h1v1h-1ZM82 611h1v1h-1ZM83 611h1v1h-1ZM84 612h1v1h-1ZM85 612h1v1h-1ZM86 613h1v1h-1ZM87 614h1v1h-1ZM88 615h1v1h-1ZM89 616h1v1h-1ZM90 615h1v1h-1ZM91 615h1v1h-1ZM92 615h1v1h-1ZM93 615h1v1h-1ZM94 616h1v1h-1ZM95 616h1v1h-1ZM96 615h1v1h-1ZM97 615h1v1h-1ZM98 615h1v1h-1ZM99 615h1v1h-1ZM100 613h1v2h-1ZM101 611h1v2h-1ZM102 609h1v2h-1ZM103 607h1v2h-1ZM104 609h1v2h-1ZM105 611h1v2h-1ZM106 613h1v2h-1ZM107 615h1v2h-1ZM108 617h1v1h-1ZM109 618h1v1h-1ZM110 619h1v1h-1ZM111 619h1v1h-1ZM112 619h1v1h-1ZM113 619h1v1h-1ZM114 617h1v2h-1ZM115 615h1v2h-1ZM116 616h1v1h-1ZM117 617h1v1h-1ZM118 616h1v1h-1ZM119 616h1v1h-1ZM120 615h1v1h-1ZM121 614h1v1h-1ZM122 613h1v1h-1ZM123 612h1v2h-1ZM124 614h1v4h-1ZM125 618h1v3h-1ZM126 621h1v4h-1ZM127 625h1v3h-1ZM128 628h1v2h-1ZM129 630h1v2h-1ZM130 631h1v1h-1ZM131 631h1v1h-1ZM132 631h1v1h-1ZM133 631h1v1h-1ZM134 630h1v1h-1ZM135 629h1v1h-1ZM136 627h1v2h-1ZM137 625h1v2h-1ZM138 624h1v1h-1ZM139 623h1v1h-1ZM140 623h1v1h-1ZM141 623h1v1h-1ZM142 623h1v1h-1ZM143 623h1v1h-1ZM144 623h1v1h-1ZM145 623h1v1h-1ZM146 621h1v2h-1ZM147 620h1v1h-1ZM148 621h1v1h-1ZM149 622h1v1h-1ZM150 621h1v1h-1ZM151 621h1v1h-1ZM152 622h1v1h-1ZM153 622h1v1h-1ZM154 621h1v1h-1ZM155 620h1v1h-1ZM156 621h1v1h-1ZM157 621h1v1h-1ZM158 620h1v1h-1ZM159 619h1v1h-1ZM160 619h1v1h-1ZM161 619h1v1h-1ZM162 620h1v1h-1ZM163 621h1v1h-1ZM164 622h1v1h-1ZM165 622h1v4h-1ZM166 626h1v8h-1ZM167 634h1v5h-1ZM168 639h1v2h-1ZM169 641h1v1h-1ZM170 641h1v1h-1ZM171 641h1v1h-1ZM172 642h1v2h-1ZM173 644h1v1h-1ZM174 645h1v1h-1ZM175 645h1v1h-1ZM176 645h1v1h-1ZM177 645h1v1h-1ZM178 646h1v1h-1ZM179 647h1v1h-1ZM180 645h1v2h-1ZM181 644h1v1h-1ZM182 643h1v1h-1ZM183 642h1v1h-1ZM184 641h1v1h-1ZM185 640h1v1h-1ZM186 641h1v2h-1ZM187 643h1v1h-1ZM188 642h1v1h-1ZM189 642h1v1h-1ZM190 641h1v1h-1ZM191 641h1v1h-1ZM192 642h1v1h-1ZM193 642h1v1h-1ZM194 641h1v1h-1ZM195 639h1v2h-1ZM196 636h1v3h-1ZM197 633h1v3h-1ZM198 631h1v2h-1ZM199 629h1v2h-1ZM200 628h1v1h-1ZM201 628h1v1h-1ZM202 627h1v1h-1ZM203 626h1v1h-1ZM204 627h1v1h-1ZM205 627h1v1h-1ZM206 628h1v2h-1ZM207 630h1v1h-1ZM208 631h1v1h-1ZM209 630h1v2h-1ZM210 628h1v2h-1ZM211 626h1v2h-1ZM212 625h1v1h-1ZM213 623h1v2h-1ZM214 619h1v4h-1ZM215 617h1v2h-1ZM216 618h1v1h-1ZM217 619h1v1h-1ZM218 618h1v1h-1ZM219 618h1v1h-1ZM220 617h1v1h-1ZM221 615h1v2h-1ZM222 613h1v2h-1ZM223 611h1v2h-1ZM224 612h1v2h-1ZM225 614h1v1h-1ZM226 615h1v2h-1ZM227 617h1v2h-1ZM228 619h1v1h-1ZM229 619h1v1h-1ZM230 619h1v1h-1ZM231 619h1v1h-1ZM232 618h1v1h-1ZM233 617h1v1h-1ZM234 615h1v2h-1ZM235 614h1v1h-1ZM236 615h1v2h-1ZM237 617h1v2h-1ZM238 617h1v1h-1ZM239 617h1v1h-1ZM240 616h1v1h-1ZM241 615h1v1h-1ZM242 615h1v1h-1ZM243 615h1v1h-1ZM244 614h1v1h-1ZM245 613h1v2h-1ZM246 610h1v3h-1ZM247 608h1v2h-1ZM248 610h1v2h-1ZM249 612h1v2h-1ZM250 614h1v2h-1ZM251 616h1v1h-1ZM252 617h1v2h-1ZM253 619h1v1h-1ZM254 618h1v1h-1ZM255 618h1v1h-1ZM256 617h1v1h-1ZM257 616h1v1h-1ZM258 617h1v1h-1ZM259 618h1v1h-1ZM260 617h1v1h-1ZM261 616h1v1h-1ZM262 617h1v1h-1ZM263 617h1v1h-1ZM264 618h1v2h-1ZM265 620h1v1h-1ZM266 620h1v1h-1ZM267 620h1v1h-1ZM268 621h1v1h-1ZM269 621h1v1h-1ZM270 622h1v2h-1ZM271 624h1v2h-1ZM272 624h1v1h-1ZM273 623h1v1h-1ZM274 622h1v1h-1ZM275 622h1v1h-1ZM276 621h1v1h-1ZM277 621h1v1h-1ZM278 622h1v1h-1ZM279 623h1v1h-1ZM280 623h1v1h-1ZM281 623h1v1h-1ZM282 624h1v2h-1ZM283 626h1v3h-1ZM284 629h1v2h-1ZM285 631h1v2h-1ZM286 631h1v1h-1ZM287 630h1v1h-1ZM288 629h1v1h-1ZM289 629h1v1h-1ZM290 630h1v1h-1ZM291 631h1v1h-1ZM292 629h1v2h-1ZM293 627h1v2h-1ZM294 624h1v3h-1ZM295 622h1v2h-1ZM296 623h1v1h-1ZM297 624h1v1h-1ZM298 625h1v1h-1ZM299 626h1v1h-1ZM300 626h1v1h-1ZM301 626h1v1h-1ZM302 627h1v1h-1ZM303 627h1v1h-1ZM304 628h1v2h-1ZM305 629h1v2h-1ZM306 626h1v3h-1ZM307 624h1v2h-1ZM308 623h1v1h-1ZM309 621h1v2h-1ZM310 619h1v2h-1ZM311 617h1v2h-1ZM312 618h1v2h-1ZM313 620h1v1h-1ZM314 619h1v1h-1ZM315 618h1v1h-1ZM316 616h1v2h-1ZM317 615h1v1h-1ZM318 616h1v1h-1ZM319 617h1v1h-1ZM320 617h1v1h-1ZM321 617h1v1h-1ZM322 616h1v1h-1ZM323 616h1v1h-1ZM324 616h1v1h-1ZM325 616h1v1h-1ZM326 614h1v2h-1ZM327 613h1v2h-1ZM328 615h1v4h-1ZM329 619h1v2h-1ZM330 621h1v2h-1ZM331 623h1v1h-1ZM332 624h1v2h-1ZM333 626h1v1h-1ZM334 626h1v1h-1ZM335 626h1v1h-1ZM336 625h1v1h-1ZM337 625h1v1h-1ZM338 624h1v1h-1ZM339 623h1v1h-1ZM340 624h1v1h-1ZM341 624h1v1h-1ZM342 625h1v2h-1ZM343 627h1v1h-1ZM344 628h1v1h-1ZM345 628h1v1h-1ZM346 629h1v1h-1ZM347 629h1v1h-1ZM348 630h1v1h-1ZM349 630h1v2h-1ZM350 628h1v2h-1ZM351 624h1v4h-1ZM352 620h1v4h-1ZM353 616h1v4h-1ZM354 614h1v2h-1ZM355 612h1v2h-1ZM356 613h1v1h-1ZM357 614h1v1h-1ZM358 615h1v1h-1ZM359 615h1v1h-1ZM360 615h1v1h-1ZM361 615h1v1h-1ZM362 616h1v1h-1ZM363 616h1v1h-1ZM364 614h1v2h-1ZM365 613h1v1h-1ZM366 611h1v2h-1ZM367 610h1v1h-1ZM368 610h1v1h-1ZM369 610h1v1h-1ZM370 609h1v1h-1ZM371 608h1v1h-1ZM372 608h1v1h-1ZM373 608h1v1h-1ZM374 609h1v2h-1ZM375 611h1v1h-1ZM376 612h1v2h-1ZM377 614h1v2h-1ZM378 613h1v2h-1ZM379 612h1v1h-1ZM380 613h1v1h-1ZM381 613h1v1h-1ZM382 613h1v1h-1ZM383 613h1v1h-1ZM384 612h1v1h-1ZM385 612h1v1h-1ZM386 613h1v1h-1ZM387 614h1v1h-1ZM388 615h1v2h-1ZM389 617h1v2h-1ZM390 619h1v2h-1ZM391 621h1v2h-1ZM392 623h1v1h-1ZM393 624h1v2h-1ZM394 626h1v3h-1ZM395 629h1v2h-1ZM396 629h1v1h-1ZM397 629h1v1h-1ZM398 628h1v1h-1ZM399 627h1v1h-1ZM400 626h1v1h-1ZM401 624h1v2h-1ZM402 620h1v4h-1ZM403 618h1v2h-1ZM404 617h1v1h-1ZM405 617h1v1h-1ZM406 616h1v1h-1ZM407 615h1v1h-1ZM408 616h1v1h-1ZM409 616h1v1h-1ZM410 614h1v2h-1ZM411 613h1v1h-1ZM412 612h1v1h-1ZM413 612h1v2h-1ZM414 614h1v3h-1ZM415 617h1v2h-1ZM416 619h1v2h-1ZM417 621h1v1h-1ZM418 620h1v1h-1ZM419 620h1v1h-1ZM420 621h1v1h-1ZM421 621h1v1h-1ZM422 620h1v1h-1ZM423 619h1v1h-1ZM424 618h1v1h-1ZM425 617h1v1h-1ZM426 618h1v2h-1ZM427 620h1v2h-1ZM428 620h1v1h-1ZM429 619h1v1h-1ZM430 618h1v1h-1ZM431 618h1v1h-1ZM432 619h1v1h-1ZM433 620h1v1h-1ZM434 621h1v1h-1ZM435 622h1v1h-1ZM436 623h1v2h-1ZM437 625h1v2h-1ZM438 621h1v4h-1ZM439 618h1v3h-1ZM440 617h1v1h-1ZM441 617h1v1h-1ZM442 618h1v1h-1ZM443 619h1v1h-1ZM444 619h1v1h-1ZM445 619h1v1h-1ZM446 620h1v2h-1ZM447 622h1v1h-1ZM448 620h1v2h-1ZM449 619h1v2h-1ZM450 621h1v2h-1ZM451 623h1v2h-1ZM452 623h1v1h-1ZM453 623h1v1h-1ZM454 622h1v1h-1ZM455 621h1v1h-1ZM456 622h1v1h-1ZM457 622h1v1h-1ZM458 623h1v1h-1ZM459 624h1v1h-1ZM460 623h1v1h-1ZM461 622h1v1h-1ZM462 620h1v2h-1ZM463 618h1v2h-1ZM464 616h1v2h-1ZM465 615h1v1h-1ZM466 614h1v1h-1ZM467 614h1v1h-1ZM468 615h1v1h-1ZM469 615h1v1h-1ZM470 616h1v1h-1ZM471 616h1v1h-1ZM472 615h1v1h-1ZM473 615h1v1h-1ZM474 613h1v2h-1ZM475 611h1v3h-1ZM476 614h1v5h-1ZM477 619h1v3h-1ZM478 621h1v1h-1ZM479 621h1v1h-1ZM480 620h1v1h-1ZM481 620h1v1h-1ZM482 621h1v1h-1ZM483 622h1v1h-1ZM484 622h1v1h-1ZM485 622h1v1h-1ZM486 622h1v1h-1ZM487 622h1v1h-1ZM488 623h1v1h-1ZM489 623h1v1h-1ZM490 621h1v2h-1ZM491 620h1v1h-1ZM492 619h1v1h-1ZM493 619h1v1h-1ZM494 619h1v1h-1ZM495 618h1v2h-1ZM496 615h1v3h-1ZM497 612h1v3h-1ZM498 610h1v2h-1ZM499 608h1v2h-1ZM500 607h1v1h-1ZM501 607h1v1h-1ZM502 608h1v1h-1ZM503 609h1v1h-1ZM504 610h1v1h-1ZM505 610h1v1h-1ZM506 611h1v1h-1ZM507 611h1v2h-1ZM508 613h1v3h-1ZM509 616h1v2h-1ZM510 612h1v4h-1ZM511 609h1v3h-1ZM512 607h1v2h-1ZM513 605h1v2h-1ZM514 606h1v1h-1ZM515 607h1v1h-1ZM516 607h1v1h-1ZM517 607h1v1h-1ZM518 608h1v1h-1ZM519 609h1v1h-1ZM520 610h1v1h-1ZM521 610h1v2h-1ZM522 612h1v4h-1ZM523 616h1v3h-1ZM524 615h1v2h-1ZM525 612h1v3h-1ZM526 608h1v4h-1ZM527 605h1v3h-1ZM528 604h1v1h-1ZM529 604h1v1h-1ZM530 603h1v1h-1ZM531 603h1v1h-1ZM532 601h1v2h-1ZM533 600h1v1h-1ZM534 599h1v1h-1ZM535 599h1v1h-1ZM536 598h1v1h-1ZM537 598h1v1h-1ZM538 598h1v1h-1ZM539 598h1v1h-1ZM540 599h1v1h-1ZM541 599h1v1h-1ZM542 600h1v1h-1ZM543 601h1v1h-1ZM544 600h1v1h-1ZM545 599h1v1h-1ZM546 600h1v2h-1ZM547 602h1v3h-1ZM548 605h1v3h-1ZM549 608h1v2h-1ZM550 610h1v2h-1ZM551 612h1v1h-1ZM552 610h1v2h-1ZM553 609h1v1h-1ZM554 608h1v1h-1ZM555 607h1v1h-1ZM556 606h1v1h-1ZM557 605h1v1h-1ZM558 606h1v1h-1ZM559 607h1v1h-1ZM560 608h1v1h-1ZM561 609h1v1h-1ZM562 610h1v1h-1ZM563 611h1v1h-1ZM564 610h1v1h-1ZM565 610h1v1h-1ZM566 609h1v1h-1ZM567 609h1v1h-1ZM568 608h1v1h-1ZM569 608h1v1h-1ZM570 609h1v2h-1ZM571 611h1v2h-1ZM572 613h1v2h-1ZM573 615h1v2h-1ZM574 615h1v1h-1ZM575 615h1v1h-1ZM576 614h1v1h-1ZM577 613h1v1h-1ZM578 612h1v1h-1ZM579 612h1v1h-1ZM580 613h1v2h-1ZM581 615h1v2h-1ZM582 611h1v4h-1ZM583 609h1v2h-1ZM584 611h1v4h-1ZM585 615h1v3h-1ZM586 618h1v2h-1ZM587 620h1v2h-1ZM588 621h1v1h-1ZM589 621h1v1h-1ZM590 621h1v1h-1ZM591 621h1v1h-1ZM592 622h1v1h-1ZM593 622h1v1h-1ZM594 621h1v1h-1ZM595 621h1v1h-1ZM596 620h1v1h-1ZM597 620h1v1h-1ZM598 621h1v1h-1ZM599 621h1v1h-1ZM600 622h1v2h-1ZM601 624h1v1h-1ZM602 625h1v1h-1ZM603 625h1v1h-1ZM604 626h1v2h-1ZM605 628h1v2h-1ZM606 630h1v3h-1ZM607 633h1v2h-1ZM608 635h1v2h-1ZM609 637h1v1h-1ZM610 637h1v1h-1ZM611 637h1v1h-1ZM612 637h1v1h-1ZM613 637h1v1h-1ZM614 636h1v1h-1ZM615 636h1v1h-1ZM616 637h1v1h-1ZM617 637h1v1h-1ZM618 638h1v1h-1ZM619 638h1v1h-1ZM620 637h1v1h-1ZM621 637h1v1h-1ZM622 638h1v1h-1ZM623 639h1v1h-1ZM624 639h1v1h-1ZM625 639h1v1h-1ZM626 638h1v1h-1ZM627 637h1v1h-1ZM628 638h1v1h-1ZM629 639h1v1h-1ZM630 640h1v1h-1ZM631 640h1v1h-1ZM632 639h1v1h-1ZM633 638h1v1h-1ZM634 638h1v1h-1ZM635 638h1v1h-1ZM636 637h1v1h-1ZM637 637h1v1h-1ZM638 637h1v1h-1ZM639 637h1v1h-1ZM640 638h1v1h-1ZM641 636h1v3h-1ZM642 631h1v5h-1ZM643 628h1v3h-1ZM644 626h1v2h-1ZM645 625h1v1h-1ZM646 623h1v2h-1ZM647 622h1v1h-1ZM648 622h1v1h-1ZM649 622h1v1h-1ZM650 622h1v1h-1ZM651 622h1v1h-1ZM652 622h1v1h-1ZM653 622h1v1h-1ZM654 623h1v2h-1ZM655 625h1v1h-1ZM656 624h1v1h-1ZM657 624h1v1h-1ZM658 623h1v1h-1ZM659 623h1v1h-1ZM660 622h1v1h-1ZM661 621h1v1h-1ZM662 621h1v1h-1ZM663 620h1v2h-1ZM664 618h1v2h-1ZM665 615h1v3h-1ZM666 611h1v4h-1ZM667 607h1v4h-1ZM668 603h1v4h-1ZM669 600h1v3h-1ZM670 599h1v1h-1ZM671 599h1v1h-1ZM672 599h1v1h-1ZM673 599h1v2h-1ZM674 601h1v2h-1ZM675 603h1v2h-1ZM676 605h1v2h-1ZM677 607h1v1h-1ZM678 606h1v1h-1ZM679 605h1v2h-1ZM680 607h1v2h-1ZM681 609h1v2h-1ZM682 611h1v1h-1ZM683 611h1v1h-1ZM684 612h1v1h-1ZM685 612h1v1h-1ZM686 613h1v1h-1ZM687 613h1v1h-1ZM688 613h1v1h-1ZM689 613h1v3h-1ZM690 616h1v5h-1ZM691 621h1v4h-1ZM692 625h1v4h-1ZM693 629h1v2h-1ZM694 631h1v1h-1ZM695 631h1v1h-1ZM696 630h1v1h-1ZM697 630h1v1h-1ZM698 629h1v1h-1ZM699 629h1v1h-1ZM700 629h1v1h-1ZM701 629h1v1h-1ZM702 628h1v1h-1ZM703 628h1v1h-1ZM704 629h1v2h-1ZM705 631h1v1h-1ZM706 630h1v1h-1ZM707 629h1v1h-1ZM708 630h1v2h-1ZM709 632h1v1h-1ZM710 633h1v2h-1ZM711 634h1v2h-1ZM712 630h1v4h-1ZM713 627h1v3h-1ZM714 626h1v1h-1ZM715 625h1v1h-1ZM716 625h1v1h-1ZM717 625h1v1h-1ZM718 626h1v2h-1ZM719 628h1v1h-1ZM720 629h1v1h-1ZM721 629h1v1h-1ZM722 627h1v2h-1ZM723 626h1v1h-1ZM724 627h1v1h-1ZM725 628h1v1h-1ZM726 627h1v1h-1ZM727 626h1v1h-1ZM728 624h1v2h-1ZM729 623h1v1h-1ZM730 621h1v2h-1ZM731 619h1v2h-1ZM732 615h1v4h-1ZM733 613h1v2h-1ZM734 614h1v1h-1ZM735 614h1v1h-1ZM736 612h1v2h-1ZM737 611h1v1h-1ZM738 609h1v2h-1ZM739 607h1v2h-1ZM740 608h1v1h-1ZM741 609h1v1h-1ZM742 608h1v1h-1ZM743 607h1v1h-1ZM744 608h1v1h-1ZM745 608h1v1h-1ZM746 609h1v1h-1ZM747 609h1v1h-1ZM748 610h1v2h-1ZM749 612h1v1h-1ZM750 610h1v2h-1ZM751 608h1v2h-1ZM752 608h1v1h-1ZM753 608h1v1h-1ZM754 607h1v1h-1ZM755 606h1v2h-1ZM756 608h1v2h-1ZM757 610h1v2h-1ZM758 612h1v1h-1ZM759 612h1v1h-1ZM760 611h1v1h-1ZM761 610h1v1h-1ZM762 610h1v1h-1ZM763 610h1v1h-1ZM764 609h1v1h-1ZM765 608h1v1h-1ZM766 606h1v2h-1ZM767 604h1v2h-1ZM768 605h1v1h-1ZM769 606h1v1h-1ZM770 606h1v1h-1ZM771 606h1v1h-1ZM772 606h1v1h-1ZM773 606h1v2h-1ZM774 608h1v2h-1ZM775 610h1v2h-1ZM776 610h1v1h-1ZM777 610h1v1h-1ZM778 611h1v1h-1ZM779 611h1v1h-1ZM780 612h1v1h-1ZM781 613h1v1h-1ZM782 612h1v1h-1ZM783 611h1v1h-1ZM784 611h1v1h-1ZM785 611h1v1h-1ZM786 610h1v1h-1ZM787 609h1v2h-1ZM788 605h1v4h-1ZM789 602h1v3h-1ZM790 601h1v1h-1ZM791 601h1v1h-1ZM792 600h1v1h-1ZM793 599h1v1h-1ZM794 600h1v1h-1ZM795 601h1v1h-1ZM796 602h1v1h-1ZM797 603h1v1h-1ZM798 603h1v1h-1ZM799 603h1v1h-1ZM800 604h1v1h-1ZM801 604h1v1h-1ZM802 604h1v1h-1ZM803 604h1v1h-1ZM804 603h1v1h-1ZM805 602h1v2h-1ZM806 600h1v2h-1ZM807 598h1v2h-1ZM808 598h1v1h-1ZM809 598h1v1h-1ZM810 599h1v1h-1ZM811 600h1v2h-1ZM812 602h1v4h-1ZM813 606h1v2h-1ZM814 608h1v1h-1ZM815 608h1v1h-1ZM816 609h1v1h-1ZM817 609h1v1h-1ZM818 610h1v1h-1ZM819 610h1v2h-1ZM820 608h1v2h-1ZM821 605h1v3h-1ZM822 603h1v2h-1ZM823 601h1v2h-1ZM824 600h1v1h-1ZM825 599h1v1h-1ZM826 600h1v2h-1ZM827 602h1v1h-1ZM828 603h1v1h-1ZM829 603h1v1h-1ZM830 602h1v1h-1ZM831 602h1v1h-1ZM832 601h1v1h-1ZM833 601h1v1h-1ZM834 600h1v1h-1ZM835 599h1v1h-1ZM836 599h1v1h-1ZM837 599h1v1h-1ZM838 597h1v2h-1ZM839 596h1v1h-1ZM840 595h1v1h-1ZM841 595h1v1h-1ZM842 595h1v1h-1ZM843 595h1v2h-1ZM844 597h1v2h-1ZM845 599h1v2h-1ZM846 598h1v2h-1ZM847 597h1v1h-1ZM848 598h1v1h-1ZM849 599h1v1h-1ZM850 598h1v1h-1ZM851 598h1v2h-1ZM852 600h1v3h-1ZM853 603h1v2h-1ZM854 605h1v1h-1ZM855 606h1v1h-1ZM856 607h1v2h-1ZM857 609h1v1h-1ZM858 610h1v1h-1ZM859 610h1v1h-1ZM860 609h1v1h-1ZM861 609h1v1h-1ZM862 608h1v1h-1ZM863 608h1v1h-1ZM864 606h1v2h-1ZM865 604h1v2h-1ZM866 605h1v2h-1ZM867 607h1v2h-1ZM868 609h1v2h-1ZM869 611h1v1h-1ZM870 612h1v2h-1ZM871 614h1v2h-1ZM872 616h1v1h-1ZM873 617h1v1h-1ZM874 618h1v2h-1ZM875 620h1v2h-1ZM876 620h1v1h-1ZM877 619h1v1h-1ZM878 620h1v1h-1ZM879 621h1v2h-1ZM880 623h1v2h-1ZM881 625h1v2h-1ZM882 626h1v1h-1ZM883 626h1v1h-1ZM884 626h1v1h-1ZM885 626h1v1h-1ZM886 626h1v1h-1ZM887 626h1v1h-1ZM888 625h1v1h-1ZM889 624h1v1h-1ZM890 625h1v2h-1ZM891 626h1v2h-1ZM892 622h1v4h-1ZM893 620h1v2h-1ZM894 621h1v1h-1ZM895 622h1v1h-1ZM896 621h1v1h-1ZM897 620h1v1h-1ZM898 619h1v1h-1ZM899 619h1v1h-1ZM900 620h1v1h-1ZM901 620h1v1h-1ZM902 619h1v1h-1ZM903 619h1v1h-1ZM904 617h1v2h-1ZM905 616h1v1h-1ZM906 615h1v1h-1ZM907 615h1v1h-1ZM908 616h1v2h-1ZM909 618h1v2h-1ZM910 620h1v2h-1ZM911 622h1v1h-1ZM912 623h1v1h-1ZM913 624h1v2h-1ZM914 626h1v3h-1ZM915 629h1v2h-1ZM916 631h1v2h-1ZM917 631h1v3h-1ZM918 626h1v5h-1ZM919 623h1v3h-1ZM920 621h1v2h-1ZM921 620h1v1h-1ZM922 620h1v1h-1ZM923 620h1v1h-1ZM924 619h1v1h-1ZM925 619h1v1h-1ZM926 619h1v1h-1ZM927 619h1v1h-1Z" fill="#1e90ff" shape-rendering="crispEdges"/>
<text x="7.5" y="584" font-size="9.8" fill="#000" textLength="67" lengthAdjust="spacingAndGlyphs" stroke="#000" stroke-width="0.2">RSI(14) 46.5454</text>
<rect x="1165" y="573" width="3" height="1" fill="#000"/>
<text x="1169.6" y="582" font-size="9.8" fill="#000" textLength="14.6" lengthAdjust="spacingAndGlyphs" stroke="#000" stroke-width="0.2">100</text>
<rect x="1165" y="598" width="3" height="1" fill="#000"/>
<text x="1169.6" y="602" font-size="9.8" fill="#000" textLength="9.8" lengthAdjust="spacingAndGlyphs" stroke="#000" stroke-width="0.2">70</text>
<rect x="1165" y="632" width="3" height="1" fill="#000"/>
<text x="1169.6" y="636" font-size="9.8" fill="#000" textLength="9.8" lengthAdjust="spacingAndGlyphs" stroke="#000" stroke-width="0.2">30</text>
<rect x="1165" y="657" width="3" height="1" fill="#000"/>
<text x="1169.6" y="655" font-size="9.8" fill="#000" textLength="4.9" lengthAdjust="spacingAndGlyphs" stroke="#000" stroke-width="0.2">0</text>
<rect x="3" y="659" width="1" height="3" fill="#000"/>
<text x="2.1" y="671" font-size="9.8" fill="#000" textLength="54.2" lengthAdjust="spacingAndGlyphs" stroke="#000" stroke-width="0.2">28 May 2021</text>
<rect x="67" y="659" width="1" height="3" fill="#000"/>
<text x="66.4" y="671" font-size="9.8" fill="#000" textLength="47.2" lengthAdjust="spacingAndGlyphs" stroke="#000" stroke-width="0.2">4 Jun 18:00</text>
<rect x="131" y="659" width="1" height="3" fill="#000"/>
<text x="130.1" y="671" font-size="9.8" fill="#000" textLength="52.6" lengthAdjust="spacingAndGlyphs" stroke="#000" stroke-width="0.2">12 Jun 00:00</text>
<rect x="195" y="659" width="1" height="3" fill="#000"/>
<text x="194.4" y="671" font-size="9.8" fill="#000" textLength="52.0" lengthAdjust="spacingAndGlyphs" stroke="#000" stroke-width="0.2">21 Jun 11:00</text>
<rect x="259" y="659" width="1" height="3" fill="#000"/>
<text x="258.1" y="671" font-size="9.8" fill="#000" textLength="52.6" lengthAdjust="spacingAndGlyphs" stroke="#000" stroke-width="0.2">28 Jun 19:00</text>
<rect x="323" y="659" width="1" height="3" fill="#000"/>
<text x="322" y="671" font-size="9.8" fill="#000" textLength="44.6" lengthAdjust="spacingAndGlyphs" stroke="#000" stroke-width="0.2">6 Jul 00:00</text>
<rect x="387" y="659" width="1" height="3" fill="#000"/>
<text x="386.5" y="671" font-size="9.8" fill="#000" textLength="49.1" lengthAdjust="spacingAndGlyphs" stroke="#000" stroke-width="0.2">13 Jul 10:00</text>
<rect x="451" y="659" width="1" height="3" fill="#000"/>
<text x="450.2" y="671" font-size="9.8" fill="#000" textLength="49.7" lengthAdjust="spacingAndGlyphs" stroke="#000" stroke-width="0.2">20 Jul 18:00</text>
<rect x="515" y="659" width="1" height="3" fill="#000"/>
<text x="514.5" y="671" font-size="9.8" fill="#000" textLength="49.1" lengthAdjust="spacingAndGlyphs" stroke="#000" stroke-width="0.2">28 Jul 00:00</text>
<rect x="579" y="659" width="1" height="3" fill="#000"/>
<text x="578.2" y="671" font-size="9.8" fill="#000" textLength="50.4" lengthAdjust="spacingAndGlyphs" stroke="#000" stroke-width="0.2">4 Aug 10:00</text>
<rect x="643" y="659" width="1" height="3" fill="#000"/>
<text x="642" y="671" font-size="9.8" fill="#000" textLength="55.7" lengthAdjust="spacingAndGlyphs" stroke="#000" stroke-width="0.2">11 Aug 18:00</text>
<rect x="707" y="659" width="1" height="3" fill="#000"/>
<text x="706.5" y="671" font-size="9.8" fill="#000" textLength="55.5" lengthAdjust="spacingAndGlyphs" stroke="#000" stroke-width="0.2">19 Aug 00:00</text>
<rect x="771" y="659" width="1" height="3" fill="#000"/>
<text x="770.2" y="671" font-size="9.8" fill="#000" textLength="55.8" lengthAdjust="spacingAndGlyphs" stroke="#000" stroke-width="0.2">26 Aug 10:00</text>
<rect x="835" y="659" width="1" height="3" fill="#000"/>
<text x="834.5" y="671" font-size="9.8" fill="#000" textLength="49.1" lengthAdjust="spacingAndGlyphs" stroke="#000" stroke-width="0.2">2 Sep 18:00</text>
<rect x="899" y="659" width="1" height="3" fill="#000"/>
<text x="898.2" y="671" font-size="9.8" fill="#000" textLength="54.5" lengthAdjust="spacingAndGlyphs" stroke="#000" stroke-width="0.2">10 Sep 00:00</text>
<path d="M6 34.5 L13 34.5 L9.5 30 Z" fill="#000"/>
<text x="18.7" y="35" font-size="9.8" fill="#000" textLength="200" lengthAdjust="spacingAndGlyphs" stroke="#000" stroke-width="0.2" xml:space="preserve">EURUSD,H4  1.18105 1.18111 1.18097 1.18108</text>
<defs>
<linearGradient id="gtop" x1="0" y1="0" x2="0" y2="1"><stop offset="0" stop-color="#6060ff"/><stop offset="1" stop-color="#3030e4"/></linearGradient>
<linearGradient id="gbot" x1="0" y1="0" x2="0" y2="1"><stop offset="0" stop-color="#2c2ce6"/><stop offset="1" stop-color="#0000a4"/></linearGradient>
<linearGradient id="gbtn" x1="0" y1="0" x2="0" y2="1"><stop offset="0" stop-color="#f4f4f4"/><stop offset="0.35" stop-color="#ececec"/><stop offset="0.36" stop-color="#dedede"/><stop offset="1" stop-color="#d4d4d4"/></linearGradient>
</defs>
<rect x="5" y="42" width="221" height="60" fill="#ffffff"/>
<rect x="6" y="43" width="52" height="25" fill="#10109a"/>
<rect x="7" y="44" width="50" height="23" fill="url(#gtop)"/>
<rect x="6" y="67" width="109" height="33" fill="#10109a"/>
<rect x="7" y="68" width="107" height="31" fill="url(#gbot)"/>
<rect x="7" y="66" width="50" height="2" fill="#3030e4"/>
<rect x="10" y="66" width="44" height="1" fill="#1c1cb0"/>
<rect x="10" y="67" width="44" height="1" fill="#8c8cff"/>
<rect x="174" y="43" width="51" height="25" fill="#10109a"/>
<rect x="175" y="44" width="49" height="23" fill="url(#gtop)"/>
<rect x="117" y="67" width="108" height="33" fill="#10109a"/>
<rect x="118" y="68" width="106" height="31" fill="url(#gbot)"/>
<rect x="175" y="66" width="49" height="2" fill="#3030e4"/>
<rect x="177" y="66" width="45" height="1" fill="#1c1cb0"/>
<rect x="177" y="67" width="45" height="1" fill="#8c8cff"/>
<rect x="60" y="43" width="111" height="22" fill="#a8a8a8"/>
<rect x="61" y="44" width="109" height="20" fill="#ffffff"/>
<rect x="62" y="45" width="19" height="18" fill="url(#gbtn)"/>
<rect x="81" y="44" width="1" height="20" fill="#a8a8a8"/>
<rect x="151" y="45" width="18" height="18" fill="url(#gbtn)"/>
<rect x="150" y="44" width="1" height="20" fill="#a8a8a8"/>
<path d="M68 52 L73.5 52 L70.75 55 Z" fill="#3a5cc8"/>
<path d="M157.5 55 L163 55 L160.25 52 Z" fill="#3a5cc8"/>
<text x="122.5" y="58" font-size="12" fill="#000" textLength="23.2" lengthAdjust="spacingAndGlyphs">3.00</text>
<text x="18.7" y="59" font-size="12" fill="#eeeeff" textLength="25" lengthAdjust="spacingAndGlyphs">SELL</text>
<text x="187" y="59" font-size="12" fill="#eeeeff" textLength="22.7" lengthAdjust="spacingAndGlyphs">BUY</text>
<text x="26.6" y="95" font-size="11" fill="#fff" textLength="23.2" lengthAdjust="spacingAndGlyphs" font-weight="bold">1.18</text>
<text x="53.7" y="95" font-size="33" fill="#fff" textLength="34" lengthAdjust="spacingAndGlyphs">11</text>
<text x="93.4" y="79" font-size="12" fill="#fff" font-weight="bold">1</text>
<text x="136.6" y="95" font-size="11" fill="#fff" textLength="23.2" lengthAdjust="spacingAndGlyphs" font-weight="bold">1.18</text>
<text x="164.2" y="95" font-size="33" fill="#fff" textLength="34" lengthAdjust="spacingAndGlyphs">11</text>
<text x="204.6" y="79" font-size="12" fill="#fff" font-weight="bold">2</text>
<rect x="0" y="679" width="1205" height="1" fill="#e3e3e3"/>
<rect x="0" y="681" width="1205" height="22" fill="#f0f0f0"/>
<rect x="0" y="681" width="1205" height="1" fill="#000"/>
<rect x="0" y="682" width="1205" height="1" fill="#ffffff"/>
<rect x="0" y="701" width="1205" height="1" fill="#ffffff"/>
<rect x="0" y="705" width="1205" height="1" fill="#a0a0a0"/>
<rect x="0" y="706" width="1205" height="1" fill="#f8f8f8"/>
<rect x="5" y="680" width="90" height="19" fill="#ffffff"/>
<rect x="4" y="681" width="1" height="19" fill="#000"/>
<rect x="95" y="681" width="1" height="19" fill="#000"/>
<rect x="4" y="699" width="92" height="1" fill="#000"/>
<rect x="0" y="681" width="5" height="1" fill="#000"/>
<text x="16.8" y="696" font-size="12" fill="#000" textLength="66.6" lengthAdjust="spacingAndGlyphs">EURUSD,H4</text>
<text x="107" y="696" font-size="12" fill="#6d6d6d" textLength="81.6" lengthAdjust="spacingAndGlyphs">AUDUSD,Daily</text>
<text x="210.7" y="696" font-size="12" fill="#6d6d6d" textLength="66.3" lengthAdjust="spacingAndGlyphs">USDCHF,H4</text>
<text x="299.2" y="696" font-size="12" fill="#6d6d6d" textLength="80.6" lengthAdjust="spacingAndGlyphs">USDCAD,Daily</text>
<text x="402.3" y="696" font-size="12" fill="#6d6d6d" textLength="82.3" lengthAdjust="spacingAndGlyphs">USDCNH,Daily</text>
<text x="508.4" y="696" font-size="12" fill="#6d6d6d" textLength="51.4" lengthAdjust="spacingAndGlyphs">UKOil,H1</text>
<text x="582.4" y="696" font-size="12" fill="#6d6d6d" textLength="46.0" lengthAdjust="spacingAndGlyphs">DJ30,H1</text>
<text x="652" y="696" font-size="12" fill="#6d6d6d" textLength="51.4" lengthAdjust="spacingAndGlyphs">USDX,H1</text>
<text x="726.9" y="696" font-size="12" fill="#6d6d6d" textLength="68.9" lengthAdjust="spacingAndGlyphs">XAUUSD,H4</text>
<text x="820" y="696" font-size="12" fill="#6d6d6d" textLength="67.2" lengthAdjust="spacingAndGlyphs">GBPUSD,H1</text>
<rect x="200" y="684" width="1" height="14" fill="#505050"/>
<rect x="288" y="684" width="1" height="14" fill="#505050"/>
<rect x="392" y="684" width="1" height="14" fill="#505050"/>
<rect x="496" y="684" width="1" height="14" fill="#505050"/>
<rect x="572" y="684" width="1" height="14" fill="#505050"/>
<rect x="640" y="684" width="1" height="14" fill="#505050"/>
<rect x="716" y="684" width="1" height="14" fill="#505050"/>
<rect x="808" y="684" width="1" height="14" fill="#505050"/>
<rect x="900" y="684" width="1" height="14" fill="#505050"/>
<path d="M1184 687 L1184 693 L1181 690 Z" fill="#808080"/>
<path d="M1200 687 L1200 693 L1203 690 Z" fill="#808080"/>
</svg>
</body></html>
